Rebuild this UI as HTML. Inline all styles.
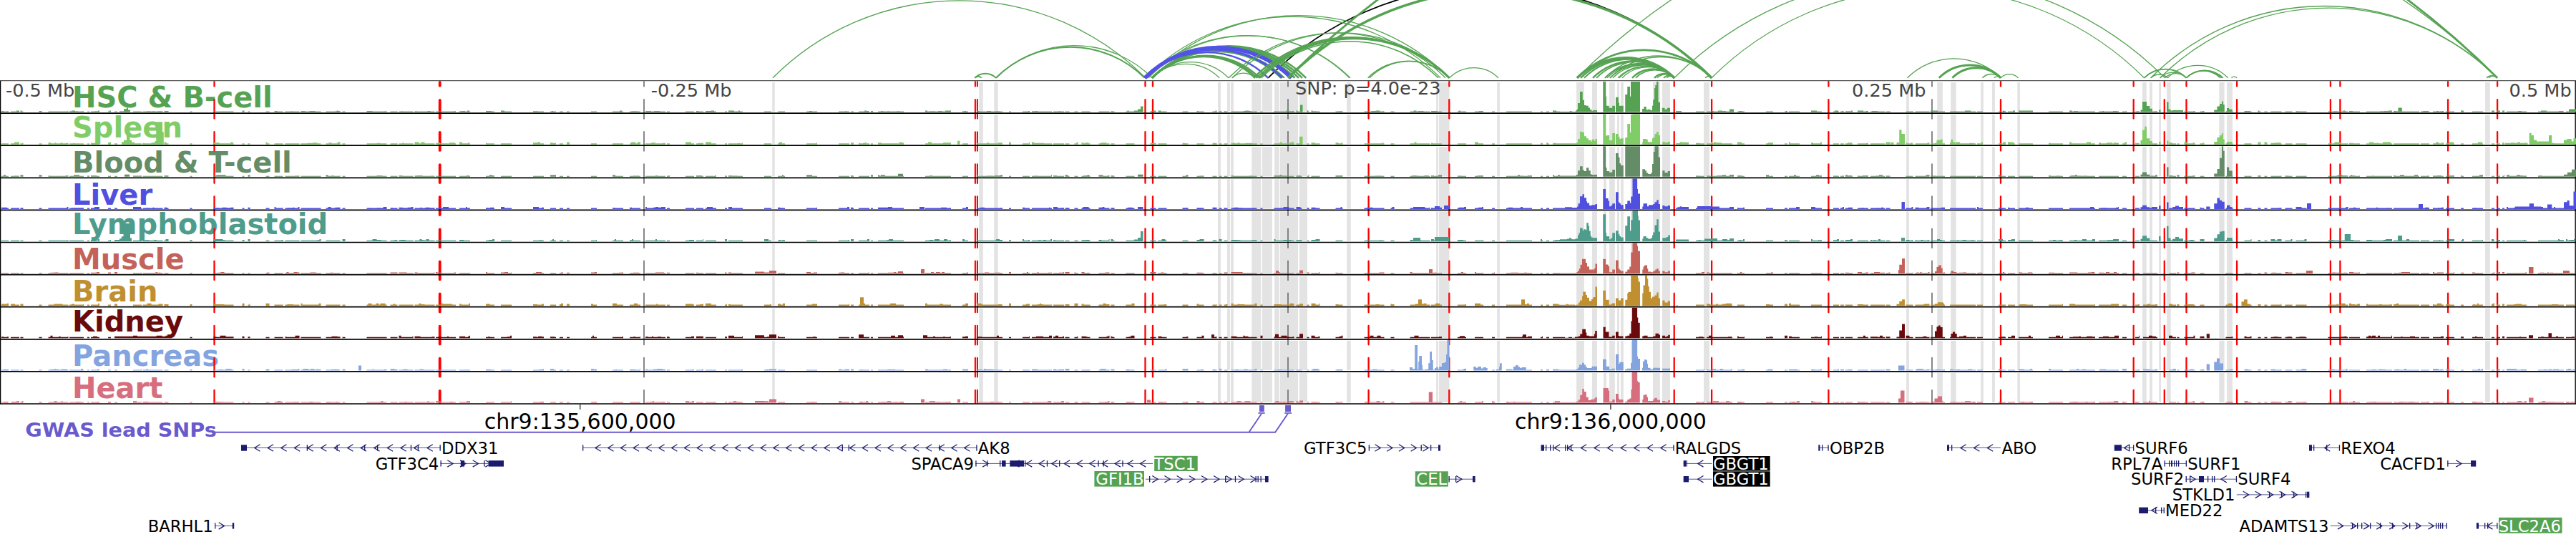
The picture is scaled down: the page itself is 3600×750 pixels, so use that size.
<!DOCTYPE html><html><head><meta charset="utf-8"><style>html,body{margin:0;padding:0;background:#fff;width:3600px;height:750px;overflow:hidden}svg{display:block}text{font-family:"DejaVu Sans","Liberation Sans",sans-serif}</style></head><body>
<svg width="3600" height="750" viewBox="0 0 3600 750">
<rect width="3600" height="750" fill="#fff"/>
<g fill="none" stroke-linecap="butt">
<path d="M1772.3 108.8A438.2 438.2 0 0 1 2392.0 108.8" stroke="#000" stroke-width="1.8"/>
<path d="M1080.0 108.8A368.4 368.4 0 0 1 1601.0 108.8" stroke="#55a352" stroke-width="1.3"/>
<path d="M1362.3 108.8A20.9 20.9 0 0 1 1391.9 108.8" stroke="#55a352" stroke-width="2.0"/>
<path d="M1362.3 108.8A6.7 6.7 0 0 1 1371.8 108.8" stroke="#55a352" stroke-width="1.6"/>
<path d="M1391.9 108.8A146.9 146.9 0 0 1 1599.7 108.8" stroke="#55a352" stroke-width="2.0"/>
<path d="M1391.9 108.8A154.4 154.4 0 0 1 1610.3 108.8" stroke="#55a352" stroke-width="1.3"/>
<path d="M1610.0 108.8A66.6 66.6 0 0 1 1704.2 108.8" stroke="#55a352" stroke-width="1.3"/>
<path d="M1610.0 108.8A75.6 75.6 0 0 1 1716.9 108.8" stroke="#55a352" stroke-width="1.3"/>
<path d="M1610.0 108.8A101.8 101.8 0 0 1 1754.0 108.8" stroke="#55a352" stroke-width="2.5"/>
<path d="M1610.0 108.8A103.9 103.9 0 0 1 1757.0 108.8" stroke="#55a352" stroke-width="2.0"/>
<path d="M1610.0 108.8A106.3 106.3 0 0 1 1760.4 108.8" stroke="#55a352" stroke-width="2.5"/>
<path d="M1610.0 108.8A127.6 127.6 0 0 1 1790.5 108.8" stroke="#55a352" stroke-width="3"/>
<path d="M1610.0 108.8A130.8 130.8 0 0 1 1795.0 108.8" stroke="#55a352" stroke-width="2"/>
<path d="M1610.0 108.8A141.1 141.1 0 0 1 1809.5 108.8" stroke="#55a352" stroke-width="3"/>
<path d="M1610.0 108.8A145.0 145.0 0 0 1 1815.0 108.8" stroke="#55a352" stroke-width="2.5"/>
<path d="M1610.0 108.8A148.5 148.5 0 0 1 1820.0 108.8" stroke="#55a352" stroke-width="2.5"/>
<path d="M1610.0 108.8A152.2 152.2 0 0 1 1825.3 108.8" stroke="#55a352" stroke-width="2.5"/>
<path d="M1600.0 108.8A202.1 202.1 0 0 1 1885.8 108.8" stroke="#55a352" stroke-width="1.3"/>
<path d="M1603.0 108.8A200.8 200.8 0 0 1 1887.0 108.8" stroke="#55a352" stroke-width="1.3"/>
<path d="M1600.0 108.8A292.0 292.0 0 0 1 2013.0 108.8" stroke="#55a352" stroke-width="1.3"/>
<path d="M1605.0 108.8A297.3 297.3 0 0 1 2025.5 108.8" stroke="#55a352" stroke-width="1.3"/>
<path d="M1600.0 108.8A121.8 121.8 0 0 1 1772.3 108.8" stroke="#5252e6" stroke-width="2.4"/>
<path d="M1600.0 108.8A135.8 135.8 0 0 1 1792.0 108.8" stroke="#5252e6" stroke-width="3"/>
<path d="M1600.0 108.8A144.8 144.8 0 0 1 1804.8 108.8" stroke="#5252e6" stroke-width="5.5"/>
<path d="M1721.7 108.8A22.8 22.8 0 0 1 1754.0 108.8" stroke="#55a352" stroke-width="1.3"/>
<path d="M1717.0 108.8A214.3 214.3 0 0 1 2020.0 108.8" stroke="#55a352" stroke-width="1.3"/>
<path d="M1722.0 108.8A214.6 214.6 0 0 1 2025.5 108.8" stroke="#55a352" stroke-width="1.3"/>
<path d="M1752.0 108.8A193.4 193.4 0 0 1 2025.5 108.8" stroke="#55a352" stroke-width="2.5"/>
<path d="M1756.0 108.8A190.6 190.6 0 0 1 2025.5 108.8" stroke="#55a352" stroke-width="2.0"/>
<path d="M1760.0 108.8A187.7 187.7 0 0 1 2025.5 108.8" stroke="#55a352" stroke-width="3"/>
<path d="M1763.0 108.8A174.7 174.7 0 0 1 2010.0 108.8" stroke="#55a352" stroke-width="1.5"/>
<path d="M1911.7 108.8A80.5 80.5 0 0 1 2025.5 108.8" stroke="#55a352" stroke-width="1.6"/>
<path d="M1914.0 108.8A78.8 78.8 0 0 1 2025.5 108.8" stroke="#55a352" stroke-width="1.3"/>
<path d="M2025.5 108.8A48.4 48.4 0 0 1 2094.0 108.8" stroke="#55a352" stroke-width="1.3"/>
<path d="M1800.0 108.8A418.6 418.6 0 0 1 2392.0 108.8" stroke="#55a352" stroke-width="3.5"/>
<path d="M2204.0 108.8A132.9 132.9 0 0 1 2392.0 108.8" stroke="#55a352" stroke-width="2.8"/>
<path d="M2242.8 108.8A105.5 105.5 0 0 1 2392.0 108.8" stroke="#55a352" stroke-width="1.5"/>
<path d="M2250.0 108.8A100.4 100.4 0 0 1 2392.0 108.8" stroke="#55a352" stroke-width="1.5"/>
<path d="M2383.0 108.8A6.7 6.7 0 0 1 2392.5 108.8" stroke="#55a352" stroke-width="1.5"/>
<path d="M2204.0 108.8A96.1 96.1 0 0 1 2339.9 108.8" stroke="#55a352" stroke-width="3.5"/>
<path d="M2209.0 108.8A92.6 92.6 0 0 1 2339.9 108.8" stroke="#55a352" stroke-width="2.5"/>
<path d="M2214.0 108.8A89.0 89.0 0 0 1 2339.9 108.8" stroke="#55a352" stroke-width="2.0"/>
<path d="M2226.0 108.8A80.5 80.5 0 0 1 2339.9 108.8" stroke="#55a352" stroke-width="2.5"/>
<path d="M2231.0 108.8A77.0 77.0 0 0 1 2339.9 108.8" stroke="#55a352" stroke-width="1.8"/>
<path d="M2243.0 108.8A68.5 68.5 0 0 1 2339.9 108.8" stroke="#55a352" stroke-width="1.8"/>
<path d="M2246.0 108.8A66.4 66.4 0 0 1 2339.9 108.8" stroke="#55a352" stroke-width="1.5"/>
<path d="M2250.0 108.8A63.6 63.6 0 0 1 2339.9 108.8" stroke="#55a352" stroke-width="1.8"/>
<path d="M2254.0 108.8A60.7 60.7 0 0 1 2339.9 108.8" stroke="#55a352" stroke-width="1.5"/>
<path d="M2261.0 108.8A55.8 55.8 0 0 1 2339.9 108.8" stroke="#55a352" stroke-width="1.5"/>
<path d="M2263.0 108.8A54.4 54.4 0 0 1 2339.9 108.8" stroke="#55a352" stroke-width="1.3"/>
<path d="M2267.0 108.8A51.5 51.5 0 0 1 2339.9 108.8" stroke="#55a352" stroke-width="1.3"/>
<path d="M2281.0 108.8A41.6 41.6 0 0 1 2339.9 108.8" stroke="#55a352" stroke-width="2.5"/>
<path d="M2286.0 108.8A38.1 38.1 0 0 1 2339.9 108.8" stroke="#55a352" stroke-width="1.8"/>
<path d="M2312.0 108.8A19.7 19.7 0 0 1 2339.9 108.8" stroke="#55a352" stroke-width="2.5"/>
<path d="M2316.0 108.8A16.9 16.9 0 0 1 2339.9 108.8" stroke="#55a352" stroke-width="1.5"/>
<path d="M2325.0 108.8A10.5 10.5 0 0 1 2339.9 108.8" stroke="#55a352" stroke-width="1.8"/>
<path d="M2329.0 108.8A7.7 7.7 0 0 1 2339.9 108.8" stroke="#55a352" stroke-width="1.3"/>
<path d="M2204.0 108.8A909.3 909.3 0 0 1 3490.0 108.8" stroke="#55a352" stroke-width="1.3"/>
<path d="M1800.0 108.8A1195.0 1195.0 0 0 1 3490.0 108.8" stroke="#55a352" stroke-width="2.8"/>
<path d="M2339.9 108.8A484.8 484.8 0 0 1 3025.5 108.8" stroke="#55a352" stroke-width="1.3"/>
<path d="M2392.0 108.8A427.4 427.4 0 0 1 2996.5 108.8" stroke="#55a352" stroke-width="1.3"/>
<path d="M2665.5 108.8A92.3 92.3 0 0 1 2796.0 108.8" stroke="#55a352" stroke-width="1.3"/>
<path d="M2709.8 108.8A61.0 61.0 0 0 1 2796.0 108.8" stroke="#55a352" stroke-width="3"/>
<path d="M2728.4 108.8A47.8 47.8 0 0 1 2796.0 108.8" stroke="#55a352" stroke-width="3"/>
<path d="M2770.4 108.8A18.1 18.1 0 0 1 2796.0 108.8" stroke="#55a352" stroke-width="1.3"/>
<path d="M2786.7 108.8A6.6 6.6 0 0 1 2796.0 108.8" stroke="#55a352" stroke-width="1.3"/>
<path d="M2796.0 108.8A17.3 17.3 0 0 1 2820.5 108.8" stroke="#55a352" stroke-width="1.3"/>
<path d="M2996.5 108.8A41.7 41.7 0 0 1 3055.5 108.8" stroke="#55a352" stroke-width="1.8"/>
<path d="M3005.7 108.8A16.8 16.8 0 0 1 3029.4 108.8" stroke="#55a352" stroke-width="1.5"/>
<path d="M3018.7 108.8A26.0 26.0 0 0 1 3055.5 108.8" stroke="#55a352" stroke-width="1.3"/>
<path d="M3025.5 108.8A21.2 21.2 0 0 1 3055.5 108.8" stroke="#55a352" stroke-width="1.3"/>
<path d="M3055.5 108.8A33.6 33.6 0 0 1 3103.0 108.8" stroke="#55a352" stroke-width="1.5"/>
<path d="M3055.5 108.8A35.0 35.0 0 0 1 3105.0 108.8" stroke="#55a352" stroke-width="1.5"/>
<path d="M3055.5 108.8A36.3 36.3 0 0 1 3106.9 108.8" stroke="#55a352" stroke-width="1.5"/>
<path d="M3029.4 108.8A59.6 59.6 0 0 1 3113.7 108.8" stroke="#55a352" stroke-width="1.3"/>
<path d="M3118.5 108.8A5.4 5.4 0 0 1 3126.2 108.8" stroke="#55a352" stroke-width="1.3"/>
<path d="M3005.7 108.8A342.5 342.5 0 0 1 3490.0 108.8" stroke="#55a352" stroke-width="1.3"/>
<path d="M3018.7 108.8A333.3 333.3 0 0 1 3490.0 108.8" stroke="#55a352" stroke-width="1.3"/>
<path d="M3475.0 108.8A10.6 10.6 0 0 1 3490.0 108.8" stroke="#55a352" stroke-width="1.5"/>
<path d="M3478.0 108.8A8.5 8.5 0 0 1 3490.0 108.8" stroke="#55a352" stroke-width="1.3"/>
</g>
<g fill="#e3e3e3">
<rect x="1079.2" y="115.0" width="3.5" height="41.3"/>
<rect x="1368.3" y="115.0" width="5.5" height="41.3"/>
<rect x="1389.3" y="115.0" width="5.4" height="41.3"/>
<rect x="1702.0" y="115.0" width="4.0" height="41.3"/>
<rect x="1715.0" y="115.0" width="3.9" height="41.3"/>
<rect x="1720.0" y="115.0" width="3.9" height="41.3"/>
<rect x="1749.2" y="115.0" width="13.0" height="41.3"/>
<rect x="1763.7" y="115.0" width="14.2" height="41.3"/>
<rect x="1781.1" y="115.0" width="6.7" height="41.3"/>
<rect x="1789.0" y="115.0" width="25.0" height="41.3"/>
<rect x="1815.8" y="115.0" width="11.2" height="41.3"/>
<rect x="1882.2" y="115.0" width="5.5" height="41.3"/>
<rect x="2007.1" y="115.0" width="2.9" height="41.3"/>
<rect x="2011.0" y="115.0" width="14.5" height="41.3"/>
<rect x="2092.2" y="115.0" width="3.8" height="41.3"/>
<rect x="2203.1" y="115.0" width="10.7" height="41.3"/>
<rect x="2225.0" y="115.0" width="7.0" height="41.3"/>
<rect x="2241.1" y="115.0" width="3.7" height="41.3"/>
<rect x="2249.1" y="115.0" width="7.7" height="41.3"/>
<rect x="2260.1" y="115.0" width="2.9" height="41.3"/>
<rect x="2265.0" y="115.0" width="3.8" height="41.3"/>
<rect x="2279.0" y="115.0" width="9.5" height="41.3"/>
<rect x="2310.0" y="115.0" width="9.8" height="41.3"/>
<rect x="2323.0" y="115.0" width="10.9" height="41.3"/>
<rect x="2381.0" y="115.0" width="7.9" height="41.3"/>
<rect x="2664.1" y="115.0" width="3.8" height="41.3"/>
<rect x="2707.2" y="115.0" width="7.7" height="41.3"/>
<rect x="2726.2" y="115.0" width="7.5" height="41.3"/>
<rect x="2768.1" y="115.0" width="3.8" height="41.3"/>
<rect x="2784.0" y="115.0" width="3.9" height="41.3"/>
<rect x="2819.3" y="115.0" width="3.7" height="41.3"/>
<rect x="2994.1" y="115.0" width="5.6" height="41.3"/>
<rect x="3004.1" y="115.0" width="3.8" height="41.3"/>
<rect x="3017.2" y="115.0" width="2.8" height="41.3"/>
<rect x="3028.1" y="115.0" width="5.6" height="41.3"/>
<rect x="3101.3" y="115.0" width="7.3" height="41.3"/>
<rect x="3112.1" y="115.0" width="7.8" height="41.3"/>
<rect x="3473.1" y="115.0" width="6.7" height="41.3"/>
<rect x="1079.2" y="160.1" width="3.5" height="41.3"/>
<rect x="1368.3" y="160.1" width="5.5" height="41.3"/>
<rect x="1389.3" y="160.1" width="5.4" height="41.3"/>
<rect x="1702.0" y="160.1" width="4.0" height="41.3"/>
<rect x="1715.0" y="160.1" width="3.9" height="41.3"/>
<rect x="1720.0" y="160.1" width="3.9" height="41.3"/>
<rect x="1749.2" y="160.1" width="13.0" height="41.3"/>
<rect x="1763.7" y="160.1" width="14.2" height="41.3"/>
<rect x="1781.1" y="160.1" width="6.7" height="41.3"/>
<rect x="1789.0" y="160.1" width="25.0" height="41.3"/>
<rect x="1815.8" y="160.1" width="11.2" height="41.3"/>
<rect x="1882.2" y="160.1" width="5.5" height="41.3"/>
<rect x="2007.1" y="160.1" width="2.9" height="41.3"/>
<rect x="2011.0" y="160.1" width="14.5" height="41.3"/>
<rect x="2092.2" y="160.1" width="3.8" height="41.3"/>
<rect x="2203.1" y="160.1" width="10.7" height="41.3"/>
<rect x="2225.0" y="160.1" width="7.0" height="41.3"/>
<rect x="2241.1" y="160.1" width="3.7" height="41.3"/>
<rect x="2249.1" y="160.1" width="7.7" height="41.3"/>
<rect x="2260.1" y="160.1" width="2.9" height="41.3"/>
<rect x="2265.0" y="160.1" width="3.8" height="41.3"/>
<rect x="2279.0" y="160.1" width="9.5" height="41.3"/>
<rect x="2310.0" y="160.1" width="9.8" height="41.3"/>
<rect x="2323.0" y="160.1" width="10.9" height="41.3"/>
<rect x="2381.0" y="160.1" width="7.9" height="41.3"/>
<rect x="2664.1" y="160.1" width="3.8" height="41.3"/>
<rect x="2707.2" y="160.1" width="7.7" height="41.3"/>
<rect x="2726.2" y="160.1" width="7.5" height="41.3"/>
<rect x="2768.1" y="160.1" width="3.8" height="41.3"/>
<rect x="2784.0" y="160.1" width="3.9" height="41.3"/>
<rect x="2819.3" y="160.1" width="3.7" height="41.3"/>
<rect x="2994.1" y="160.1" width="5.6" height="41.3"/>
<rect x="3004.1" y="160.1" width="3.8" height="41.3"/>
<rect x="3017.2" y="160.1" width="2.8" height="41.3"/>
<rect x="3028.1" y="160.1" width="5.6" height="41.3"/>
<rect x="3101.3" y="160.1" width="7.3" height="41.3"/>
<rect x="3112.1" y="160.1" width="7.8" height="41.3"/>
<rect x="3473.1" y="160.1" width="6.7" height="41.3"/>
<rect x="1079.2" y="205.2" width="3.5" height="41.3"/>
<rect x="1368.3" y="205.2" width="5.5" height="41.3"/>
<rect x="1389.3" y="205.2" width="5.4" height="41.3"/>
<rect x="1702.0" y="205.2" width="4.0" height="41.3"/>
<rect x="1715.0" y="205.2" width="3.9" height="41.3"/>
<rect x="1720.0" y="205.2" width="3.9" height="41.3"/>
<rect x="1749.2" y="205.2" width="13.0" height="41.3"/>
<rect x="1763.7" y="205.2" width="14.2" height="41.3"/>
<rect x="1781.1" y="205.2" width="6.7" height="41.3"/>
<rect x="1789.0" y="205.2" width="25.0" height="41.3"/>
<rect x="1815.8" y="205.2" width="11.2" height="41.3"/>
<rect x="1882.2" y="205.2" width="5.5" height="41.3"/>
<rect x="2007.1" y="205.2" width="2.9" height="41.3"/>
<rect x="2011.0" y="205.2" width="14.5" height="41.3"/>
<rect x="2092.2" y="205.2" width="3.8" height="41.3"/>
<rect x="2203.1" y="205.2" width="10.7" height="41.3"/>
<rect x="2225.0" y="205.2" width="7.0" height="41.3"/>
<rect x="2241.1" y="205.2" width="3.7" height="41.3"/>
<rect x="2249.1" y="205.2" width="7.7" height="41.3"/>
<rect x="2260.1" y="205.2" width="2.9" height="41.3"/>
<rect x="2265.0" y="205.2" width="3.8" height="41.3"/>
<rect x="2279.0" y="205.2" width="9.5" height="41.3"/>
<rect x="2310.0" y="205.2" width="9.8" height="41.3"/>
<rect x="2323.0" y="205.2" width="10.9" height="41.3"/>
<rect x="2381.0" y="205.2" width="7.9" height="41.3"/>
<rect x="2664.1" y="205.2" width="3.8" height="41.3"/>
<rect x="2707.2" y="205.2" width="7.7" height="41.3"/>
<rect x="2726.2" y="205.2" width="7.5" height="41.3"/>
<rect x="2768.1" y="205.2" width="3.8" height="41.3"/>
<rect x="2784.0" y="205.2" width="3.9" height="41.3"/>
<rect x="2819.3" y="205.2" width="3.7" height="41.3"/>
<rect x="2994.1" y="205.2" width="5.6" height="41.3"/>
<rect x="3004.1" y="205.2" width="3.8" height="41.3"/>
<rect x="3017.2" y="205.2" width="2.8" height="41.3"/>
<rect x="3028.1" y="205.2" width="5.6" height="41.3"/>
<rect x="3101.3" y="205.2" width="7.3" height="41.3"/>
<rect x="3112.1" y="205.2" width="7.8" height="41.3"/>
<rect x="3473.1" y="205.2" width="6.7" height="41.3"/>
<rect x="1079.2" y="250.3" width="3.5" height="41.3"/>
<rect x="1368.3" y="250.3" width="5.5" height="41.3"/>
<rect x="1389.3" y="250.3" width="5.4" height="41.3"/>
<rect x="1702.0" y="250.3" width="4.0" height="41.3"/>
<rect x="1715.0" y="250.3" width="3.9" height="41.3"/>
<rect x="1720.0" y="250.3" width="3.9" height="41.3"/>
<rect x="1749.2" y="250.3" width="13.0" height="41.3"/>
<rect x="1763.7" y="250.3" width="14.2" height="41.3"/>
<rect x="1781.1" y="250.3" width="6.7" height="41.3"/>
<rect x="1789.0" y="250.3" width="25.0" height="41.3"/>
<rect x="1815.8" y="250.3" width="11.2" height="41.3"/>
<rect x="1882.2" y="250.3" width="5.5" height="41.3"/>
<rect x="2007.1" y="250.3" width="2.9" height="41.3"/>
<rect x="2011.0" y="250.3" width="14.5" height="41.3"/>
<rect x="2092.2" y="250.3" width="3.8" height="41.3"/>
<rect x="2203.1" y="250.3" width="10.7" height="41.3"/>
<rect x="2225.0" y="250.3" width="7.0" height="41.3"/>
<rect x="2241.1" y="250.3" width="3.7" height="41.3"/>
<rect x="2249.1" y="250.3" width="7.7" height="41.3"/>
<rect x="2260.1" y="250.3" width="2.9" height="41.3"/>
<rect x="2265.0" y="250.3" width="3.8" height="41.3"/>
<rect x="2279.0" y="250.3" width="9.5" height="41.3"/>
<rect x="2310.0" y="250.3" width="9.8" height="41.3"/>
<rect x="2323.0" y="250.3" width="10.9" height="41.3"/>
<rect x="2381.0" y="250.3" width="7.9" height="41.3"/>
<rect x="2664.1" y="250.3" width="3.8" height="41.3"/>
<rect x="2707.2" y="250.3" width="7.7" height="41.3"/>
<rect x="2726.2" y="250.3" width="7.5" height="41.3"/>
<rect x="2768.1" y="250.3" width="3.8" height="41.3"/>
<rect x="2784.0" y="250.3" width="3.9" height="41.3"/>
<rect x="2819.3" y="250.3" width="3.7" height="41.3"/>
<rect x="2994.1" y="250.3" width="5.6" height="41.3"/>
<rect x="3004.1" y="250.3" width="3.8" height="41.3"/>
<rect x="3017.2" y="250.3" width="2.8" height="41.3"/>
<rect x="3028.1" y="250.3" width="5.6" height="41.3"/>
<rect x="3101.3" y="250.3" width="7.3" height="41.3"/>
<rect x="3112.1" y="250.3" width="7.8" height="41.3"/>
<rect x="3473.1" y="250.3" width="6.7" height="41.3"/>
<rect x="1079.2" y="295.4" width="3.5" height="41.3"/>
<rect x="1368.3" y="295.4" width="5.5" height="41.3"/>
<rect x="1389.3" y="295.4" width="5.4" height="41.3"/>
<rect x="1702.0" y="295.4" width="4.0" height="41.3"/>
<rect x="1715.0" y="295.4" width="3.9" height="41.3"/>
<rect x="1720.0" y="295.4" width="3.9" height="41.3"/>
<rect x="1749.2" y="295.4" width="13.0" height="41.3"/>
<rect x="1763.7" y="295.4" width="14.2" height="41.3"/>
<rect x="1781.1" y="295.4" width="6.7" height="41.3"/>
<rect x="1789.0" y="295.4" width="25.0" height="41.3"/>
<rect x="1815.8" y="295.4" width="11.2" height="41.3"/>
<rect x="1882.2" y="295.4" width="5.5" height="41.3"/>
<rect x="2007.1" y="295.4" width="2.9" height="41.3"/>
<rect x="2011.0" y="295.4" width="14.5" height="41.3"/>
<rect x="2092.2" y="295.4" width="3.8" height="41.3"/>
<rect x="2203.1" y="295.4" width="10.7" height="41.3"/>
<rect x="2225.0" y="295.4" width="7.0" height="41.3"/>
<rect x="2241.1" y="295.4" width="3.7" height="41.3"/>
<rect x="2249.1" y="295.4" width="7.7" height="41.3"/>
<rect x="2260.1" y="295.4" width="2.9" height="41.3"/>
<rect x="2265.0" y="295.4" width="3.8" height="41.3"/>
<rect x="2279.0" y="295.4" width="9.5" height="41.3"/>
<rect x="2310.0" y="295.4" width="9.8" height="41.3"/>
<rect x="2323.0" y="295.4" width="10.9" height="41.3"/>
<rect x="2381.0" y="295.4" width="7.9" height="41.3"/>
<rect x="2664.1" y="295.4" width="3.8" height="41.3"/>
<rect x="2707.2" y="295.4" width="7.7" height="41.3"/>
<rect x="2726.2" y="295.4" width="7.5" height="41.3"/>
<rect x="2768.1" y="295.4" width="3.8" height="41.3"/>
<rect x="2784.0" y="295.4" width="3.9" height="41.3"/>
<rect x="2819.3" y="295.4" width="3.7" height="41.3"/>
<rect x="2994.1" y="295.4" width="5.6" height="41.3"/>
<rect x="3004.1" y="295.4" width="3.8" height="41.3"/>
<rect x="3017.2" y="295.4" width="2.8" height="41.3"/>
<rect x="3028.1" y="295.4" width="5.6" height="41.3"/>
<rect x="3101.3" y="295.4" width="7.3" height="41.3"/>
<rect x="3112.1" y="295.4" width="7.8" height="41.3"/>
<rect x="3473.1" y="295.4" width="6.7" height="41.3"/>
<rect x="1079.2" y="340.5" width="3.5" height="41.3"/>
<rect x="1368.3" y="340.5" width="5.5" height="41.3"/>
<rect x="1389.3" y="340.5" width="5.4" height="41.3"/>
<rect x="1702.0" y="340.5" width="4.0" height="41.3"/>
<rect x="1715.0" y="340.5" width="3.9" height="41.3"/>
<rect x="1720.0" y="340.5" width="3.9" height="41.3"/>
<rect x="1749.2" y="340.5" width="13.0" height="41.3"/>
<rect x="1763.7" y="340.5" width="14.2" height="41.3"/>
<rect x="1781.1" y="340.5" width="6.7" height="41.3"/>
<rect x="1789.0" y="340.5" width="25.0" height="41.3"/>
<rect x="1815.8" y="340.5" width="11.2" height="41.3"/>
<rect x="1882.2" y="340.5" width="5.5" height="41.3"/>
<rect x="2007.1" y="340.5" width="2.9" height="41.3"/>
<rect x="2011.0" y="340.5" width="14.5" height="41.3"/>
<rect x="2092.2" y="340.5" width="3.8" height="41.3"/>
<rect x="2203.1" y="340.5" width="10.7" height="41.3"/>
<rect x="2225.0" y="340.5" width="7.0" height="41.3"/>
<rect x="2241.1" y="340.5" width="3.7" height="41.3"/>
<rect x="2249.1" y="340.5" width="7.7" height="41.3"/>
<rect x="2260.1" y="340.5" width="2.9" height="41.3"/>
<rect x="2265.0" y="340.5" width="3.8" height="41.3"/>
<rect x="2279.0" y="340.5" width="9.5" height="41.3"/>
<rect x="2310.0" y="340.5" width="9.8" height="41.3"/>
<rect x="2323.0" y="340.5" width="10.9" height="41.3"/>
<rect x="2381.0" y="340.5" width="7.9" height="41.3"/>
<rect x="2664.1" y="340.5" width="3.8" height="41.3"/>
<rect x="2707.2" y="340.5" width="7.7" height="41.3"/>
<rect x="2726.2" y="340.5" width="7.5" height="41.3"/>
<rect x="2768.1" y="340.5" width="3.8" height="41.3"/>
<rect x="2784.0" y="340.5" width="3.9" height="41.3"/>
<rect x="2819.3" y="340.5" width="3.7" height="41.3"/>
<rect x="2994.1" y="340.5" width="5.6" height="41.3"/>
<rect x="3004.1" y="340.5" width="3.8" height="41.3"/>
<rect x="3017.2" y="340.5" width="2.8" height="41.3"/>
<rect x="3028.1" y="340.5" width="5.6" height="41.3"/>
<rect x="3101.3" y="340.5" width="7.3" height="41.3"/>
<rect x="3112.1" y="340.5" width="7.8" height="41.3"/>
<rect x="3473.1" y="340.5" width="6.7" height="41.3"/>
<rect x="1079.2" y="385.6" width="3.5" height="41.3"/>
<rect x="1368.3" y="385.6" width="5.5" height="41.3"/>
<rect x="1389.3" y="385.6" width="5.4" height="41.3"/>
<rect x="1702.0" y="385.6" width="4.0" height="41.3"/>
<rect x="1715.0" y="385.6" width="3.9" height="41.3"/>
<rect x="1720.0" y="385.6" width="3.9" height="41.3"/>
<rect x="1749.2" y="385.6" width="13.0" height="41.3"/>
<rect x="1763.7" y="385.6" width="14.2" height="41.3"/>
<rect x="1781.1" y="385.6" width="6.7" height="41.3"/>
<rect x="1789.0" y="385.6" width="25.0" height="41.3"/>
<rect x="1815.8" y="385.6" width="11.2" height="41.3"/>
<rect x="1882.2" y="385.6" width="5.5" height="41.3"/>
<rect x="2007.1" y="385.6" width="2.9" height="41.3"/>
<rect x="2011.0" y="385.6" width="14.5" height="41.3"/>
<rect x="2092.2" y="385.6" width="3.8" height="41.3"/>
<rect x="2203.1" y="385.6" width="10.7" height="41.3"/>
<rect x="2225.0" y="385.6" width="7.0" height="41.3"/>
<rect x="2241.1" y="385.6" width="3.7" height="41.3"/>
<rect x="2249.1" y="385.6" width="7.7" height="41.3"/>
<rect x="2260.1" y="385.6" width="2.9" height="41.3"/>
<rect x="2265.0" y="385.6" width="3.8" height="41.3"/>
<rect x="2279.0" y="385.6" width="9.5" height="41.3"/>
<rect x="2310.0" y="385.6" width="9.8" height="41.3"/>
<rect x="2323.0" y="385.6" width="10.9" height="41.3"/>
<rect x="2381.0" y="385.6" width="7.9" height="41.3"/>
<rect x="2664.1" y="385.6" width="3.8" height="41.3"/>
<rect x="2707.2" y="385.6" width="7.7" height="41.3"/>
<rect x="2726.2" y="385.6" width="7.5" height="41.3"/>
<rect x="2768.1" y="385.6" width="3.8" height="41.3"/>
<rect x="2784.0" y="385.6" width="3.9" height="41.3"/>
<rect x="2819.3" y="385.6" width="3.7" height="41.3"/>
<rect x="2994.1" y="385.6" width="5.6" height="41.3"/>
<rect x="3004.1" y="385.6" width="3.8" height="41.3"/>
<rect x="3017.2" y="385.6" width="2.8" height="41.3"/>
<rect x="3028.1" y="385.6" width="5.6" height="41.3"/>
<rect x="3101.3" y="385.6" width="7.3" height="41.3"/>
<rect x="3112.1" y="385.6" width="7.8" height="41.3"/>
<rect x="3473.1" y="385.6" width="6.7" height="41.3"/>
<rect x="1079.2" y="430.7" width="3.5" height="41.3"/>
<rect x="1368.3" y="430.7" width="5.5" height="41.3"/>
<rect x="1389.3" y="430.7" width="5.4" height="41.3"/>
<rect x="1702.0" y="430.7" width="4.0" height="41.3"/>
<rect x="1715.0" y="430.7" width="3.9" height="41.3"/>
<rect x="1720.0" y="430.7" width="3.9" height="41.3"/>
<rect x="1749.2" y="430.7" width="13.0" height="41.3"/>
<rect x="1763.7" y="430.7" width="14.2" height="41.3"/>
<rect x="1781.1" y="430.7" width="6.7" height="41.3"/>
<rect x="1789.0" y="430.7" width="25.0" height="41.3"/>
<rect x="1815.8" y="430.7" width="11.2" height="41.3"/>
<rect x="1882.2" y="430.7" width="5.5" height="41.3"/>
<rect x="2007.1" y="430.7" width="2.9" height="41.3"/>
<rect x="2011.0" y="430.7" width="14.5" height="41.3"/>
<rect x="2092.2" y="430.7" width="3.8" height="41.3"/>
<rect x="2203.1" y="430.7" width="10.7" height="41.3"/>
<rect x="2225.0" y="430.7" width="7.0" height="41.3"/>
<rect x="2241.1" y="430.7" width="3.7" height="41.3"/>
<rect x="2249.1" y="430.7" width="7.7" height="41.3"/>
<rect x="2260.1" y="430.7" width="2.9" height="41.3"/>
<rect x="2265.0" y="430.7" width="3.8" height="41.3"/>
<rect x="2279.0" y="430.7" width="9.5" height="41.3"/>
<rect x="2310.0" y="430.7" width="9.8" height="41.3"/>
<rect x="2323.0" y="430.7" width="10.9" height="41.3"/>
<rect x="2381.0" y="430.7" width="7.9" height="41.3"/>
<rect x="2664.1" y="430.7" width="3.8" height="41.3"/>
<rect x="2707.2" y="430.7" width="7.7" height="41.3"/>
<rect x="2726.2" y="430.7" width="7.5" height="41.3"/>
<rect x="2768.1" y="430.7" width="3.8" height="41.3"/>
<rect x="2784.0" y="430.7" width="3.9" height="41.3"/>
<rect x="2819.3" y="430.7" width="3.7" height="41.3"/>
<rect x="2994.1" y="430.7" width="5.6" height="41.3"/>
<rect x="3004.1" y="430.7" width="3.8" height="41.3"/>
<rect x="3017.2" y="430.7" width="2.8" height="41.3"/>
<rect x="3028.1" y="430.7" width="5.6" height="41.3"/>
<rect x="3101.3" y="430.7" width="7.3" height="41.3"/>
<rect x="3112.1" y="430.7" width="7.8" height="41.3"/>
<rect x="3473.1" y="430.7" width="6.7" height="41.3"/>
<rect x="1079.2" y="475.8" width="3.5" height="41.3"/>
<rect x="1368.3" y="475.8" width="5.5" height="41.3"/>
<rect x="1389.3" y="475.8" width="5.4" height="41.3"/>
<rect x="1702.0" y="475.8" width="4.0" height="41.3"/>
<rect x="1715.0" y="475.8" width="3.9" height="41.3"/>
<rect x="1720.0" y="475.8" width="3.9" height="41.3"/>
<rect x="1749.2" y="475.8" width="13.0" height="41.3"/>
<rect x="1763.7" y="475.8" width="14.2" height="41.3"/>
<rect x="1781.1" y="475.8" width="6.7" height="41.3"/>
<rect x="1789.0" y="475.8" width="25.0" height="41.3"/>
<rect x="1815.8" y="475.8" width="11.2" height="41.3"/>
<rect x="1882.2" y="475.8" width="5.5" height="41.3"/>
<rect x="2007.1" y="475.8" width="2.9" height="41.3"/>
<rect x="2011.0" y="475.8" width="14.5" height="41.3"/>
<rect x="2092.2" y="475.8" width="3.8" height="41.3"/>
<rect x="2203.1" y="475.8" width="10.7" height="41.3"/>
<rect x="2225.0" y="475.8" width="7.0" height="41.3"/>
<rect x="2241.1" y="475.8" width="3.7" height="41.3"/>
<rect x="2249.1" y="475.8" width="7.7" height="41.3"/>
<rect x="2260.1" y="475.8" width="2.9" height="41.3"/>
<rect x="2265.0" y="475.8" width="3.8" height="41.3"/>
<rect x="2279.0" y="475.8" width="9.5" height="41.3"/>
<rect x="2310.0" y="475.8" width="9.8" height="41.3"/>
<rect x="2323.0" y="475.8" width="10.9" height="41.3"/>
<rect x="2381.0" y="475.8" width="7.9" height="41.3"/>
<rect x="2664.1" y="475.8" width="3.8" height="41.3"/>
<rect x="2707.2" y="475.8" width="7.7" height="41.3"/>
<rect x="2726.2" y="475.8" width="7.5" height="41.3"/>
<rect x="2768.1" y="475.8" width="3.8" height="41.3"/>
<rect x="2784.0" y="475.8" width="3.9" height="41.3"/>
<rect x="2819.3" y="475.8" width="3.7" height="41.3"/>
<rect x="2994.1" y="475.8" width="5.6" height="41.3"/>
<rect x="3004.1" y="475.8" width="3.8" height="41.3"/>
<rect x="3017.2" y="475.8" width="2.8" height="41.3"/>
<rect x="3028.1" y="475.8" width="5.6" height="41.3"/>
<rect x="3101.3" y="475.8" width="7.3" height="41.3"/>
<rect x="3112.1" y="475.8" width="7.8" height="41.3"/>
<rect x="3473.1" y="475.8" width="6.7" height="41.3"/>
<rect x="1079.2" y="520.9" width="3.5" height="41.3"/>
<rect x="1368.3" y="520.9" width="5.5" height="41.3"/>
<rect x="1389.3" y="520.9" width="5.4" height="41.3"/>
<rect x="1702.0" y="520.9" width="4.0" height="41.3"/>
<rect x="1715.0" y="520.9" width="3.9" height="41.3"/>
<rect x="1720.0" y="520.9" width="3.9" height="41.3"/>
<rect x="1749.2" y="520.9" width="13.0" height="41.3"/>
<rect x="1763.7" y="520.9" width="14.2" height="41.3"/>
<rect x="1781.1" y="520.9" width="6.7" height="41.3"/>
<rect x="1789.0" y="520.9" width="25.0" height="41.3"/>
<rect x="1815.8" y="520.9" width="11.2" height="41.3"/>
<rect x="1882.2" y="520.9" width="5.5" height="41.3"/>
<rect x="2007.1" y="520.9" width="2.9" height="41.3"/>
<rect x="2011.0" y="520.9" width="14.5" height="41.3"/>
<rect x="2092.2" y="520.9" width="3.8" height="41.3"/>
<rect x="2203.1" y="520.9" width="10.7" height="41.3"/>
<rect x="2225.0" y="520.9" width="7.0" height="41.3"/>
<rect x="2241.1" y="520.9" width="3.7" height="41.3"/>
<rect x="2249.1" y="520.9" width="7.7" height="41.3"/>
<rect x="2260.1" y="520.9" width="2.9" height="41.3"/>
<rect x="2265.0" y="520.9" width="3.8" height="41.3"/>
<rect x="2279.0" y="520.9" width="9.5" height="41.3"/>
<rect x="2310.0" y="520.9" width="9.8" height="41.3"/>
<rect x="2323.0" y="520.9" width="10.9" height="41.3"/>
<rect x="2381.0" y="520.9" width="7.9" height="41.3"/>
<rect x="2664.1" y="520.9" width="3.8" height="41.3"/>
<rect x="2707.2" y="520.9" width="7.7" height="41.3"/>
<rect x="2726.2" y="520.9" width="7.5" height="41.3"/>
<rect x="2768.1" y="520.9" width="3.8" height="41.3"/>
<rect x="2784.0" y="520.9" width="3.9" height="41.3"/>
<rect x="2819.3" y="520.9" width="3.7" height="41.3"/>
<rect x="2994.1" y="520.9" width="5.6" height="41.3"/>
<rect x="3004.1" y="520.9" width="3.8" height="41.3"/>
<rect x="3017.2" y="520.9" width="2.8" height="41.3"/>
<rect x="3028.1" y="520.9" width="5.6" height="41.3"/>
<rect x="3101.3" y="520.9" width="7.3" height="41.3"/>
<rect x="3112.1" y="520.9" width="7.8" height="41.3"/>
<rect x="3473.1" y="520.9" width="6.7" height="41.3"/>
</g>
<g font-weight="bold" font-size="40">
<text x="101" y="150.4" fill="#55a352">HSC &amp; B-cell</text>
<text x="101" y="192.4" fill="#80cc66">Spleen</text>
<text x="101" y="240.6" fill="#648c66">Blood &amp; T-cell</text>
<text x="101" y="285.8" fill="#5050e0">Liver</text>
<text x="101" y="327.0" fill="#4e9c8c">Lymphoblastoid</text>
<text x="101" y="376.1" fill="#c4625a">Muscle</text>
<text x="101" y="421.1" fill="#c09030">Brain</text>
<text x="101" y="463.2" fill="#6b0a0a">Kidney</text>
<text x="101" y="511.3" fill="#84a4e0">Pancreas</text>
<text x="101" y="556.3" fill="#d66e7e">Heart</text>
</g>
<line x1="0" y1="112.7" x2="3600" y2="112.7" stroke="#555" stroke-width="1.3"/>
<line x1="0.6" y1="113.0" x2="0.6" y2="564.0" stroke="#000" stroke-width="1.3"/>
<line x1="3599.2" y1="113.0" x2="3599.2" y2="564.0" stroke="#000" stroke-width="1.3"/>
<path d="M900.0 113.8V120.8M900.0 138.8V165.9M900.0 183.9V211.0M900.0 229.0V256.1M900.0 274.1V301.2M900.0 319.2V346.3M900.0 364.3V391.4M900.0 409.4V436.5M900.0 454.5V481.6M900.0 499.6V526.7M900.0 544.7V563.2" stroke="#6a6a6a" stroke-width="1.6" stroke-linecap="round" fill="none"/>
<path d="M1800.0 113.8V120.8M1800.0 138.8V165.9M1800.0 183.9V211.0M1800.0 229.0V256.1M1800.0 274.1V301.2M1800.0 319.2V346.3M1800.0 364.3V391.4M1800.0 409.4V436.5M1800.0 454.5V481.6M1800.0 499.6V526.7M1800.0 544.7V563.2" stroke="#6a6a6a" stroke-width="1.6" stroke-linecap="round" fill="none"/>
<path d="M2700.0 113.8V120.8M2700.0 138.8V165.9M2700.0 183.9V211.0M2700.0 229.0V256.1M2700.0 274.1V301.2M2700.0 319.2V346.3M2700.0 364.3V391.4M2700.0 409.4V436.5M2700.0 454.5V481.6M2700.0 499.6V526.7M2700.0 544.7V563.2" stroke="#6a6a6a" stroke-width="1.6" stroke-linecap="round" fill="none"/>
<path d="M299.5 114.2V120.4M299.5 139.2V165.5M299.5 184.2V210.6M299.5 229.4V255.8M299.5 274.4V300.9M299.5 319.5V346.0M299.5 364.6V391.1M299.5 409.7V436.2M299.5 454.8V481.3M299.5 500.0V526.4M299.5 545.0V562.9" stroke="#ff0000" stroke-width="2.3" stroke-linecap="round" fill="none"/>
<path d="M614.7 114.9V119.7M614.7 139.9V164.8M614.7 185.0V209.9M614.7 230.1V255.0M614.7 275.2V300.1M614.7 320.3V345.2M614.7 365.4V390.3M614.7 410.5V435.4M614.7 455.6V480.5M614.7 500.7V525.6M614.7 545.8V562.1" stroke="#ff0000" stroke-width="3.8" stroke-linecap="round" fill="none"/>
<path d="M1362.9 114.0V120.5M1362.9 139.1V165.6M1362.9 184.2V210.7M1362.9 229.3V255.9M1362.9 274.3V300.9M1362.9 319.4V346.1M1362.9 364.6V391.2M1362.9 409.6V436.2M1362.9 454.8V481.4M1362.9 499.9V526.5M1362.9 544.9V563.0" stroke="#ff0000" stroke-width="2.1" stroke-linecap="round" fill="none"/>
<path d="M1365.9 114.0V120.5M1365.9 139.1V165.6M1365.9 184.2V210.7M1365.9 229.3V255.9M1365.9 274.3V300.9M1365.9 319.4V346.1M1365.9 364.6V391.2M1365.9 409.6V436.2M1365.9 454.8V481.4M1365.9 499.9V526.5M1365.9 544.9V563.0" stroke="#ff0000" stroke-width="2.1" stroke-linecap="round" fill="none"/>
<path d="M1600.5 114.2V120.4M1600.5 139.2V165.5M1600.5 184.2V210.6M1600.5 229.4V255.8M1600.5 274.4V300.9M1600.5 319.5V346.0M1600.5 364.6V391.1M1600.5 409.7V436.2M1600.5 454.8V481.3M1600.5 500.0V526.4M1600.5 545.0V562.9" stroke="#ff0000" stroke-width="2.3" stroke-linecap="round" fill="none"/>
<path d="M1611.0 114.2V120.4M1611.0 139.2V165.5M1611.0 184.2V210.6M1611.0 229.4V255.8M1611.0 274.4V300.9M1611.0 319.5V346.0M1611.0 364.6V391.1M1611.0 409.7V436.2M1611.0 454.8V481.3M1611.0 500.0V526.4M1611.0 545.0V562.9" stroke="#ff0000" stroke-width="2.3" stroke-linecap="round" fill="none"/>
<path d="M1912.6 114.2V120.4M1912.6 139.2V165.5M1912.6 184.2V210.6M1912.6 229.4V255.8M1912.6 274.4V300.9M1912.6 319.5V346.0M1912.6 364.6V391.1M1912.6 409.7V436.2M1912.6 454.8V481.3M1912.6 500.0V526.4M1912.6 545.0V562.9" stroke="#ff0000" stroke-width="2.3" stroke-linecap="round" fill="none"/>
<path d="M2025.3 114.2V120.4M2025.3 139.2V165.5M2025.3 184.2V210.6M2025.3 229.4V255.8M2025.3 274.4V300.9M2025.3 319.5V346.0M2025.3 364.6V391.1M2025.3 409.7V436.2M2025.3 454.8V481.3M2025.3 500.0V526.4M2025.3 545.0V562.9" stroke="#ff0000" stroke-width="2.3" stroke-linecap="round" fill="none"/>
<path d="M2339.7 114.2V120.4M2339.7 139.2V165.5M2339.7 184.2V210.6M2339.7 229.4V255.8M2339.7 274.4V300.9M2339.7 319.5V346.0M2339.7 364.6V391.1M2339.7 409.7V436.2M2339.7 454.8V481.3M2339.7 500.0V526.4M2339.7 545.0V562.9" stroke="#ff0000" stroke-width="2.3" stroke-linecap="round" fill="none"/>
<path d="M2392.1 114.2V120.4M2392.1 139.2V165.5M2392.1 184.2V210.6M2392.1 229.4V255.8M2392.1 274.4V300.9M2392.1 319.5V346.0M2392.1 364.6V391.1M2392.1 409.7V436.2M2392.1 454.8V481.3M2392.1 500.0V526.4M2392.1 545.0V562.9" stroke="#ff0000" stroke-width="2.3" stroke-linecap="round" fill="none"/>
<path d="M2555.4 114.2V120.4M2555.4 139.2V165.5M2555.4 184.2V210.6M2555.4 229.4V255.8M2555.4 274.4V300.9M2555.4 319.5V346.0M2555.4 364.6V391.1M2555.4 409.7V436.2M2555.4 454.8V481.3M2555.4 500.0V526.4M2555.4 545.0V562.9" stroke="#ff0000" stroke-width="2.3" stroke-linecap="round" fill="none"/>
<path d="M2796.0 114.2V120.4M2796.0 139.2V165.5M2796.0 184.2V210.6M2796.0 229.4V255.8M2796.0 274.4V300.9M2796.0 319.5V346.0M2796.0 364.6V391.1M2796.0 409.7V436.2M2796.0 454.8V481.3M2796.0 500.0V526.4M2796.0 545.0V562.9" stroke="#ff0000" stroke-width="2.3" stroke-linecap="round" fill="none"/>
<path d="M2981.7 114.2V120.4M2981.7 139.2V165.5M2981.7 184.2V210.6M2981.7 229.4V255.8M2981.7 274.4V300.9M2981.7 319.5V346.0M2981.7 364.6V391.1M2981.7 409.7V436.2M2981.7 454.8V481.3M2981.7 500.0V526.4M2981.7 545.0V562.9" stroke="#ff0000" stroke-width="2.3" stroke-linecap="round" fill="none"/>
<path d="M3024.8 114.2V120.4M3024.8 139.2V165.5M3024.8 184.2V210.6M3024.8 229.4V255.8M3024.8 274.4V300.9M3024.8 319.5V346.0M3024.8 364.6V391.1M3024.8 409.7V436.2M3024.8 454.8V481.3M3024.8 500.0V526.4M3024.8 545.0V562.9" stroke="#ff0000" stroke-width="2.3" stroke-linecap="round" fill="none"/>
<path d="M3055.5 114.2V120.4M3055.5 139.2V165.5M3055.5 184.2V210.6M3055.5 229.4V255.8M3055.5 274.4V300.9M3055.5 319.5V346.0M3055.5 364.6V391.1M3055.5 409.7V436.2M3055.5 454.8V481.3M3055.5 500.0V526.4M3055.5 545.0V562.9" stroke="#ff0000" stroke-width="2.3" stroke-linecap="round" fill="none"/>
<path d="M3126.1 114.2V120.4M3126.1 139.2V165.5M3126.1 184.2V210.6M3126.1 229.4V255.8M3126.1 274.4V300.9M3126.1 319.5V346.0M3126.1 364.6V391.1M3126.1 409.7V436.2M3126.1 454.8V481.3M3126.1 500.0V526.4M3126.1 545.0V562.9" stroke="#ff0000" stroke-width="2.3" stroke-linecap="round" fill="none"/>
<path d="M3256.9 114.2V120.4M3256.9 139.2V165.5M3256.9 184.2V210.6M3256.9 229.4V255.8M3256.9 274.4V300.9M3256.9 319.5V346.0M3256.9 364.6V391.1M3256.9 409.7V436.2M3256.9 454.8V481.3M3256.9 500.0V526.4M3256.9 545.0V562.9" stroke="#ff0000" stroke-width="2.3" stroke-linecap="round" fill="none"/>
<path d="M3270.4 114.2V120.4M3270.4 139.2V165.5M3270.4 184.2V210.6M3270.4 229.4V255.8M3270.4 274.4V300.9M3270.4 319.5V346.0M3270.4 364.6V391.1M3270.4 409.7V436.2M3270.4 454.8V481.3M3270.4 500.0V526.4M3270.4 545.0V562.9" stroke="#ff0000" stroke-width="2.3" stroke-linecap="round" fill="none"/>
<path d="M3421.1 114.2V120.4M3421.1 139.2V165.5M3421.1 184.2V210.6M3421.1 229.4V255.8M3421.1 274.4V300.9M3421.1 319.5V346.0M3421.1 364.6V391.1M3421.1 409.7V436.2M3421.1 454.8V481.3M3421.1 500.0V526.4M3421.1 545.0V562.9" stroke="#ff0000" stroke-width="2.3" stroke-linecap="round" fill="none"/>
<path d="M3490.1 114.2V120.4M3490.1 139.2V165.5M3490.1 184.2V210.6M3490.1 229.4V255.8M3490.1 274.4V300.9M3490.1 319.5V346.0M3490.1 364.6V391.1M3490.1 409.7V436.2M3490.1 454.8V481.3M3490.1 500.0V526.4M3490.1 545.0V562.9" stroke="#ff0000" stroke-width="2.3" stroke-linecap="round" fill="none"/>
<path fill="#55a352" d="M2 156.6V155.0H5V155.6H10V155.3H12V156.6ZM15 156.6V155.6H23V154.4H27V156.6ZM28.5 156.6V154.4H30.5V155.6H32.5V156.6ZM54.5 156.6V155.0H58.5V156.6ZM67.5 156.6V155.6H93.5V155.3H95.5V156.6ZM97 156.6V155.3H100V154.4H105V155.3H109V155.6H115V155.3H117V156.6ZM122 156.6V155.6H125V156.6ZM127 156.6V155.6H132V155.3H137V154.4H139V156.6ZM151 156.6V155.6H153V154.4H155V156.6ZM160 156.6V155.6H164V156.6ZM167 156.6V155.3H173V152.2H177V150.6H179V153.5H182V156.6ZM186 156.6V155.6H198V156.6ZM199.5 156.6V155.6H205.5V155.3H210.5V155.6H212.5V155.3H216.5V155.6H220.5V155.3H227.5V156.6ZM229.5 156.6V155.0H235.5V156.6ZM265.5 156.6V155.6H268.5V156.6ZM298.5 156.6V155.6H326.5V156.6ZM338.5 156.6V154.4H341.5V156.6ZM346.5 156.6V155.6H349.5V156.6ZM371.5 156.6V155.6H376.5V156.6ZM383.5 156.6V155.0H387.5V155.6H395.5V156.6ZM398.5 156.6V155.6H406.5V155.3H408.5V155.6H418.5V156.6ZM420.5 156.6V155.0H426.5V155.6H432.5V155.0H440.5V155.6H448.5V156.6ZM455.5 156.6V155.6H468.5V155.3H470.5V154.4H472.5V155.0H475.5V156.6ZM478.5 156.6V155.6H482.5V156.6ZM512.5 156.6V155.0H520.5V155.6H537.5V155.3H540.5V156.6ZM545.5 156.6V155.6H555.5V156.6ZM557.5 156.6V155.6H560.5V155.3H562.5V155.6H577.5V156.6ZM579.5 156.6V155.3H582.5V155.6H597.5V155.0H601.5V155.6H607.5V156.6ZM609 156.6V155.6H634V155.3H637V156.6ZM642 156.6V155.3H645V155.0H650V155.6H653V154.4H656V155.6H657V156.6ZM679 156.6V155.0H687V155.6H691V156.6ZM700 156.6V154.4H705V155.6H715V156.6ZM745 156.6V155.3H752V155.6H760V156.6ZM769 156.6V155.6H771V155.0H773V155.6H777V156.6ZM782 156.6V155.6H787V156.6ZM792 156.6V155.6H796V156.6ZM826 156.6V155.6H834V156.6ZM856 156.6V155.6H866V154.4H869V155.6H871V156.6ZM880 156.6V155.6H883V155.3H891V155.6H895V156.6ZM902 156.6V155.0H910V155.6H914V155.0H922V155.6H930V156.6ZM932 156.6V155.6H936V156.6ZM958 156.6V155.6H970V156.6ZM973 156.6V155.0H976V155.6H983V156.6ZM986 156.6V155.0H994V154.4H998V155.6H1001V156.6ZM1013 156.6V155.6H1016V156.6ZM1018 156.6V154.4H1026V155.6H1032V154.4H1034V155.6H1038V156.6ZM1068 156.6V155.6H1078V156.6ZM1087 156.6V155.6H1097V156.6ZM1127 156.6V155.6H1131V155.0H1135V155.6H1142V156.6ZM1172 156.6V155.6H1181V155.3H1184V155.6H1187V156.6ZM1189 156.6V155.6H1193V156.6ZM1200 156.6V155.6H1208V154.4H1211V155.0H1214V155.6H1215V156.6ZM1217 156.6V155.0H1220V156.6ZM1227 156.6V155.6H1231V155.0H1233V155.3H1235V155.6H1240V155.3H1243V155.6H1253V155.3H1258V155.6H1263V156.6ZM1293 156.6V154.4H1296V155.6H1299V155.3H1307V155.6H1311V155.0H1317V155.6H1321V154.4H1329V156.6ZM1345 156.6V155.3H1348V155.0H1350V155.6H1353V156.6ZM1365 156.6V155.0H1369V155.6H1379V155.0H1385V155.6H1391V155.3H1397V155.6H1401V156.6ZM1410 156.6V155.6H1413V156.6ZM1429 156.6V155.6H1437V155.0H1439V156.6ZM1442 156.6V155.3H1447V155.0H1450V155.6H1470V156.6ZM1472 156.6V155.6H1479V155.3H1483V155.6H1487V156.6ZM1488.5 156.6V155.6H1494.5V156.6ZM1501.5 156.6V155.6H1506.5V156.6ZM1511.5 156.6V155.6H1523.5V156.6ZM1535.5 156.6V155.6H1550.5V156.6ZM1552.5 156.6V155.3H1555.5V155.6H1557.5V156.6ZM1573.5 156.6V155.6H1575.5V154.4H1577.5V155.6H1585V154.6H1590V152.6H1594V148.6H1597.5V156.6ZM1607.5 156.6V155.3H1611.5V154.4H1615.5V156.6ZM1618.5 156.6V154.4H1622.5V155.6H1630.5V156.6ZM1652.5 156.6V155.6H1660.5V156.6ZM1672.5 156.6V155.0H1674.5V155.6H1682.5V156.6ZM1694.5 156.6V155.6H1698.5V154.4H1700.5V156.6ZM1703.5 156.6V155.3H1707.5V156.6ZM1710.5 156.6V155.3H1713.5V155.6H1715.5V156.6ZM1720.5 156.6V155.6H1737.5V155.0H1740.5V154.4H1745.5V155.0H1748.5V155.6H1756.5V156.6ZM1761.5 156.6V155.6H1764.5V156.6ZM1780.5 156.6V155.3H1782.5V155.6H1797.5V154.4H1801.5V155.3H1806.5V155.0H1808.5V156.6ZM1811.5 156.6V154.4H1813.5V155.6H1817V146.6H1820.5V156.6ZM1826.5 156.6V154.4H1828.5V155.6H1829.5V156.6ZM1832.5 156.6V154.4H1834.5V155.3H1839.5V155.6H1844.5V156.6ZM1866.5 156.6V155.6H1870.5V155.3H1876.5V156.6ZM1906.5 156.6V155.6H1916.5V155.0H1922.5V154.4H1928.5V155.6H1932.5V155.3H1934.5V156.6ZM1943.5 156.6V155.6H1948.5V156.6ZM1970.5 156.6V155.6H1975.5V154.4H1979.5V155.6H1981.5V155.0H1989.5V155.6H1998.5V156.6ZM2000 156.6V155.0H2008V155.6H2015V156.6ZM2037 156.6V155.3H2039V154.4H2041V155.6H2049V156.6ZM2061 156.6V155.6H2067V155.0H2073V156.6ZM2085 156.6V155.6H2089V156.6ZM2105 156.6V155.6H2141V156.6ZM2153 156.6V155.6H2156V156.6ZM2161 156.6V155.6H2165V156.6ZM2170 156.6V154.4H2175V155.6H2180V155.8H2193.75V154.9H2196.75V155.8H2202.25V154.1H2204V152.6H2205V144.0H2208V127.9H2211.75V139.8H2214V147.0H2217V147.8H2219.75V150.6H2222V153.1H2224.5V154.9H2226V153.9H2232V156.6ZM2240.25 156.6V114.1H2244V134.8H2245V147.8H2248.75V150.7H2253.25V147.8H2257V156.6ZM2258 156.6V135.8H2261.75V143.6H2263V147.8H2268.75V156.6ZM2271.25 156.6V131.9H2274.25V121.0H2278V134.8H2279V114.1H2292V156.6ZM2295 156.6V152.0H2297.25V149.1H2300.75V153.2H2303.5V152.8H2306.5V154.1H2309V147.4H2310.25V139.0H2312V123.1H2313.25V118.9H2315V114.1H2317.5V142.8H2320V156.6ZM2322.75 156.6V150.7H2326.5V152.8H2330V150.7H2334V156.6ZM2342 156.6V154.9H2350V156.6ZM2370 156.6V155.6H2382V156.6ZM2385 156.6V155.6H2393V155.0H2395V155.6H2401V154.4H2407V155.0H2412V155.6H2417V152.6H2423V156.6ZM2428 156.6V155.6H2430V155.0H2435V155.6H2438V156.6ZM2468 156.6V155.6H2478V156.6ZM2494 156.6V155.6H2496V155.0H2498V156.6ZM2500 156.6V155.6H2515V156.6ZM2531 156.6V154.4H2539V155.6H2546V156.6ZM2562 156.6V155.6H2564V154.4H2569V155.6H2570V156.6ZM2572 156.6V155.6H2574V155.0H2576V155.6H2577V156.6ZM2579 156.6V155.3H2587V154.4H2589V156.6ZM2596 156.6V154.4H2604V155.6H2608V155.0H2611V156.6ZM2614 156.6V155.6H2616V155.0H2624V155.6H2634V156.6ZM2635.5 156.6V155.6H2640.5V155.3H2641.5V156.6ZM2663.5 156.6V155.6H2671.5V155.3H2673.5V156.6ZM2676.5 156.6V155.6H2696.5V156.6ZM2698 156.6V154.4H2708V155.6H2718V156.6ZM2725 156.6V155.6H2731V155.3H2733V155.6H2746V154.4H2754V155.6H2761V156.6ZM2763 156.6V155.6H2771V156.6ZM2793 156.6V155.6H2799V154.4H2801V155.0H2803V156.6ZM2806 156.6V155.6H2813V154.4H2816V156.6ZM2821 156.6V154.4H2841V156.6ZM2863 156.6V155.6H2883V156.6ZM2892 156.6V154.4H2896V155.6H2898V155.0H2904V155.6H2928V156.6ZM2933 156.6V155.6H2938V155.0H2940V155.6H2953V155.0H2958V155.3H2961V156.6ZM2966 156.6V155.6H2971V155.0H2972V156.6ZM2984 156.6V155.6H2986V155.3H2990V156.6ZM2991.5 156.6V153.6H2994V142.1H3000V147.9H3004.25V151.8H3008V155.6H3011V155.3H3015V156.6ZM3017 156.6V153.6H3019.5V156.6ZM3028 156.6V142.6H3030.5V152.8H3033.5V154.4H3036V154.1H3051V156.6ZM3052.5 156.6V155.6H3065.5V155.0H3067.5V156.6ZM3074.5 156.6V155.6H3078.5V155.0H3080.5V156.6ZM3094.25 156.6V153.6H3098.5V148.4H3102V145.1H3105V141.6H3107V145.9H3108.75V156.6ZM3110.5 156.6V155.3H3112V151.0H3115.25V152.8H3119.75V155.6H3120.5V156.6ZM3136.5 156.6V155.0H3144.5V155.6H3146.5V156.6ZM3155.5 156.6V154.4H3157.5V155.6H3159.5V156.6ZM3164.5 156.6V155.6H3168.5V156.6ZM3173.5 156.6V155.6H3188.5V156.6ZM3193.5 156.6V155.6H3203.5V156.6ZM3208.5 156.6V155.3H3212.5V155.6H3223.5V156.6ZM3253.5 156.6V155.6H3261.5V155.3H3266.5V155.6H3274.5V154.4H3277.5V155.6H3281.5V156.6ZM3283 156.6V155.0H3288V155.6H3298V156.6ZM3307 156.6V155.6H3326V155.3H3332V155.0H3338V154.4H3343V156.6ZM3345 156.6V155.0H3349V155.3H3351.5V150.6H3356.75V154.4H3357V155.6H3381V156.6ZM3383 156.6V155.6H3386V155.0H3393V155.3H3395V156.6ZM3400 156.6V155.6H3405V155.0H3408V155.6H3410V155.3H3413V155.0H3415V156.6ZM3418 156.6V155.6H3430V156.6ZM3439 156.6V154.4H3443V156.6ZM3455 156.6V155.6H3470V156.6ZM3482 156.6V154.4H3486V156.6ZM3489 156.6V154.4H3494V156.6ZM3497 156.6V154.4H3500V156.6ZM3503 156.6V155.6H3519V155.0H3524V155.6H3531V156.6ZM3547 156.6V155.6H3551V154.4H3559V155.6H3576V155.0H3582V155.6H3583V156.6ZM3586 156.6V155.6H3590V152.6H3600V156.6Z"/>
<path fill="#80cc66" d="M2 201.7V200.2H12V201.7ZM15 201.7V200.2H20V198.4H27V201.7ZM28.5 201.7V200.2H31.5V199.3H32.5V201.7ZM54.5 201.7V200.2H58.5V201.7ZM67.5 201.7V199.3H71.5V200.2H76.5V199.3H78.5V200.2H84.5V199.3H87.5V200.2H91.5V199.8H95.5V201.7ZM97 201.7V200.2H102V199.8H104V200.2H117V201.7ZM122 201.7V200.2H125V201.7ZM127 201.7V199.8H139V201.7ZM151 201.7V199.3H153V198.4H155V201.7ZM160 201.7V200.2H164V201.7ZM170 201.7V198.2H173V195.7H177V188.7H181.5V195.7H184V198.7H188V200.2H198V201.7ZM199.5 201.7V199.8H201.5V200.2H211.5V199.3H216.5V196.9H218.25V170.2H227V184.2H228.75V201.7ZM229.5 201.7V198.4H232.5V200.2H235.5V201.7ZM265.5 201.7V200.2H268.5V201.7ZM298.5 201.7V199.3H306.5V200.2H322.5V198.4H325.5V200.2H326.5V201.7ZM338.5 201.7V200.2H341.5V201.7ZM346.5 201.7V200.2H349.5V201.7ZM371.5 201.7V198.4H373.5V200.2H376.5V201.7ZM383.5 201.7V200.2H395.5V201.7ZM398.5 201.7V200.2H418.5V201.7ZM420.5 201.7V200.2H429.5V199.8H437.5V199.3H443.5V200.2H448.5V201.7ZM455.5 201.7V200.2H459.5V199.3H463.5V200.2H471.5V198.4H475.5V201.7ZM478.5 201.7V200.2H482.5V201.7ZM512.5 201.7V200.2H526.5V199.8H531.5V200.2H540.5V201.7ZM545.5 201.7V200.2H555.5V201.7ZM557.5 201.7V200.2H562.5V199.3H564.5V200.2H577.5V201.7ZM579.5 201.7V198.4H585.5V200.2H588.5V198.4H593.5V200.2H607.5V201.7ZM609 201.7V199.8H612V199.3H615V200.2H628V199.3H636V200.2H637V201.7ZM642 201.7V198.4H646V200.2H654V199.3H656V200.2H657V201.7ZM679 201.7V199.8H681V200.2H691V201.7ZM700 201.7V200.2H715V201.7ZM745 201.7V199.3H751V198.4H755V200.2H760V201.7ZM769 201.7V199.3H772V199.8H777V201.7ZM782 201.7V200.2H787V201.7ZM792 201.7V198.4H796V201.7ZM826 201.7V200.2H834V201.7ZM856 201.7V200.2H871V201.7ZM880 201.7V200.2H882V198.4H888V200.2H891V198.4H895V201.7ZM902 201.7V200.2H910V199.3H916V200.2H926V199.8H930V201.7ZM932 201.7V200.2H936V201.7ZM958 201.7V198.4H966V200.2H970V201.7ZM973 201.7V200.2H976V199.8H983V201.7ZM986 201.7V198.4H994V200.2H1001V201.7ZM1013 201.7V200.2H1016V201.7ZM1018 201.7V200.2H1031V199.8H1034V200.2H1037V199.3H1038V201.7ZM1068 201.7V200.2H1078V201.7ZM1087 201.7V200.2H1089V198.4H1093V200.2H1097V201.7ZM1127 201.7V200.2H1141V199.3H1142V201.7ZM1172 201.7V200.2H1187V201.7ZM1189 201.7V199.3H1193V201.7ZM1200 201.7V199.8H1202V200.2H1206V199.8H1208V199.3H1211V200.2H1215V201.7ZM1217 201.7V200.2H1220V201.7ZM1227 201.7V199.3H1232V200.2H1257V198.4H1260V199.3H1263V201.7ZM1293 201.7V200.2H1297V198.4H1302V200.2H1318V199.3H1329V201.7ZM1338 201.7V196.7H1341.5V201.7ZM1345 201.7V200.2H1353V201.7ZM1365 201.7V200.2H1379V199.3H1382V200.2H1395V199.3H1401V201.7ZM1410 201.7V198.4H1412V199.3H1413V201.7ZM1429 201.7V200.2H1438V198.4H1439V201.7ZM1442 201.7V198.4H1445V199.8H1459V200.2H1470V201.7ZM1472 201.7V200.2H1487V201.7ZM1488.5 201.7V200.2H1494.5V201.7ZM1501.5 201.7V200.2H1504.5V198.4H1506.5V201.7ZM1511.5 201.7V199.3H1514.5V200.2H1516.5V199.3H1521.5V200.2H1523.5V201.7ZM1535.5 201.7V200.2H1538.5V199.3H1546.5V200.2H1550.5V201.7ZM1552.5 201.7V200.2H1557.5V201.7ZM1573.5 201.7V200.2H1585.5V201.7ZM1607.5 201.7V199.8H1615.5V201.7ZM1618.5 201.7V200.2H1630.5V201.7ZM1652.5 201.7V199.8H1656.5V200.2H1660.5V201.7ZM1672.5 201.7V200.2H1682.5V201.7ZM1694.5 201.7V199.8H1700.5V201.7ZM1703.5 201.7V200.2H1707.5V201.7ZM1710.5 201.7V200.2H1715.5V201.7ZM1720.5 201.7V199.8H1726.5V200.2H1729.5V199.3H1732.5V200.2H1740.5V199.8H1750.5V200.2H1755.5V199.8H1756.5V201.7ZM1761.5 201.7V200.2H1764.5V201.7ZM1780.5 201.7V200.2H1788.5V198.4H1791.5V200.2H1801.5V199.8H1803.5V198.4H1808.5V201.7ZM1811.5 201.7V200.2H1816V190.7H1820.5V201.7ZM1826.5 201.7V200.2H1829.5V201.7ZM1832.5 201.7V199.3H1837.5V200.2H1844.5V201.7ZM1866.5 201.7V199.3H1870.5V200.2H1874.5V199.3H1876.5V201.7ZM1906.5 201.7V200.2H1931.5V199.3H1933.5V200.2H1934.5V201.7ZM1943.5 201.7V200.2H1948.5V201.7ZM1970.5 201.7V200.2H1976.5V198.4H1979.5V200.2H1998.5V201.7ZM2000 201.7V199.8H2003V200.2H2015V201.7ZM2037 201.7V200.2H2049V201.7ZM2061 201.7V198.4H2066V200.2H2073V201.7ZM2085 201.7V200.2H2089V201.7ZM2105 201.7V200.2H2141V201.7ZM2153 201.7V199.8H2156V201.7ZM2161 201.7V199.3H2163V200.2H2165V201.7ZM2170 201.7V199.8H2175V200.2H2180V200.3H2203.5V198.7H2205V194.0H2208V184.1H2211.75V184.9H2214V190.2H2217V193.2H2219.75V195.7H2223.25V197.8H2224.5V194.8H2228.25V196.9H2229.5V194.0H2232V201.7ZM2240.25 201.7V159.2H2244V189.8H2245.5V189.0H2249V196.1H2253.25V186.0H2257V201.7ZM2258 201.7V186.9H2261.75V191.1H2263.5V194.0H2265V193.2H2268.75V201.7ZM2271.25 201.7V192.1H2274.25V173.0H2278V184.9H2279V160.1H2281.5V159.2H2292V201.7ZM2295.25 201.7V198.2H2296V194.0H2300.75V194.8H2302.75V198.2H2309V193.2H2310.25V191.9H2312.5V186.9H2315V184.1H2317.75V189.0H2320V201.7ZM2323.25 201.7V198.0H2326.5V199.0H2330.75V198.0H2334V201.7ZM2342 201.7V199.9H2347.5V198.2H2350V198.7H2360V201.7ZM2370 201.7V199.8H2376V200.2H2382V201.7ZM2385 201.7V200.2H2391V198.4H2393V199.8H2395V198.4H2398V199.3H2406V200.2H2421V201.7ZM2428 201.7V198.4H2434V200.2H2438V201.7ZM2468 201.7V200.2H2471V199.3H2478V201.7ZM2494 201.7V200.2H2498V201.7ZM2500 201.7V198.4H2502V200.2H2515V201.7ZM2531 201.7V199.3H2534V200.2H2544V198.4H2546V201.7ZM2562 201.7V200.2H2570V201.7ZM2572 201.7V200.2H2577V201.7ZM2579 201.7V200.2H2582V199.3H2588V200.2H2589V201.7ZM2596 201.7V200.2H2608V199.8H2611V201.7ZM2614 201.7V200.2H2634V201.7ZM2635.5 201.7V198.4H2641.5V201.7ZM2642.25 201.7V199.1H2646.5V201.7ZM2650.5 201.7V199.1H2654.25V181.3H2657.5V186.9H2662V201.7ZM2663.5 201.7V199.3H2665.5V200.2H2670.5V199.3H2672.5V200.2H2673.5V201.7ZM2676.5 201.7V200.2H2693.5V199.3H2696.5V201.7ZM2698 201.7V200.2H2704V199.7H2706.5V195.8H2711.75V194.7H2714.75V200.2H2718V201.7ZM2725 201.7V199.3H2726.5V194.7H2729V198.4H2732V200.2H2733V198.4H2739V200.2H2752V199.8H2759V200.2H2761V201.7ZM2763 201.7V200.2H2769V198.4H2771V201.7ZM2793 201.7V200.2H2799V198.4H2803V201.7ZM2806 201.7V198.4H2814V200.2H2816V201.7ZM2821 201.7V200.2H2841V201.7ZM2863 201.7V199.8H2866V200.2H2883V201.7ZM2892 201.7V198.4H2895V200.2H2916V198.4H2922V200.2H2928V201.7ZM2933 201.7V199.3H2936V200.2H2944V199.3H2952V200.2H2954V199.3H2959V199.8H2961V201.7ZM2966 201.7V200.2H2969V198.4H2972V201.7ZM2984 201.7V199.8H2990V201.7ZM2991.5 201.7V195.8H2994V181.7H2997.25V176.7H3000V193.3H3004.25V197.1H3008V200.2H3015V201.7ZM3017 201.7V197.9H3019.5V201.7ZM3028 201.7V196.6H3030.5V201.7ZM3031 201.7V199.3H3036V200.2H3041V201.7ZM3042.5 201.7V200.2H3045.5V201.7ZM3052.5 201.7V198.4H3057.5V200.2H3064.5V199.3H3067.5V201.7ZM3074.5 201.7V200.2H3078.5V199.3H3080.5V201.7ZM3094.25 201.7V197.9H3098.5V192.0H3102V188.9H3105V186.1H3107V194.6H3108.75V201.7ZM3110.5 201.7V200.2H3112V197.9H3119.75V200.2H3120.5V201.7ZM3136.5 201.7V200.2H3146.5V201.7ZM3155.5 201.7V198.4H3159.5V201.7ZM3164.5 201.7V198.4H3168.5V201.7ZM3173.5 201.7V199.8H3179.5V199.3H3187.5V200.2H3188.5V201.7ZM3193.5 201.7V200.2H3203.5V201.7ZM3208.5 201.7V200.2H3223.5V201.7ZM3253.5 201.7V200.2H3262.5V198.4H3270.5V200.2H3281.5V201.7ZM3283 201.7V199.8H3289V200.2H3298V201.7ZM3307 201.7V200.2H3311V198.4H3317V199.8H3325V200.2H3330V198.4H3341V200.2H3343V201.7ZM3345 201.7V200.2H3381V201.7ZM3383 201.7V200.2H3395V201.7ZM3400 201.7V200.2H3404V198.4H3407V199.3H3409V200.2H3412V199.3H3415V201.7ZM3418 201.7V200.2H3423V198.4H3429V200.2H3430V201.7ZM3439 201.7V200.2H3443V201.7ZM3455 201.7V200.2H3463V198.4H3469V200.2H3470V201.7ZM3482 201.7V200.2H3486V201.7ZM3489 201.7V200.2H3494V201.7ZM3497 201.7V199.3H3500V201.7ZM3501 201.7V199.7H3509V199.3H3514V199.7H3518V198.4H3522V199.7H3529V199.3H3531V199.7H3532.5V201.7ZM3534.75 201.7V185.7H3537.75V189.1H3541V195.4H3545V197.5H3562V189.1H3566.25V199.8H3570V200.2H3583V195.4H3587.5V194.1H3593.75V197.5H3596.5V193.3H3600V201.7Z"/>
<path fill="#648c66" d="M2 246.8V245.8H5V244.6H8V245.8H12V246.8ZM15 246.8V245.8H20V245.5H26V245.8H27V246.8ZM28.5 246.8V244.6H32.5V246.8ZM54.5 246.8V244.6H58.5V246.8ZM67.5 246.8V245.5H70.5V245.8H91.5V245.2H95.5V246.8ZM97 246.8V245.8H103V244.6H111V245.8H117V246.8ZM122 246.8V245.5H125V246.8ZM127 246.8V245.2H135V245.8H139V246.8ZM151 246.8V245.8H154V245.5H155V246.8ZM160 246.8V245.8H164V246.8ZM174 246.8V243.8H181V246.8ZM186 246.8V245.5H198V246.8ZM199.5 246.8V245.8H227.5V246.8ZM229.5 246.8V245.2H235.5V246.8ZM265.5 246.8V245.8H268.5V246.8ZM298.5 246.8V245.2H302.5V244.6H315.5V245.8H326.5V246.8ZM338.5 246.8V245.8H341.5V246.8ZM346.5 246.8V244.6H349.5V246.8ZM371.5 246.8V245.8H376.5V246.8ZM383.5 246.8V245.8H395.5V246.8ZM398.5 246.8V245.8H412.5V245.5H418.5V246.8ZM420.5 246.8V245.8H448.5V246.8ZM455.5 246.8V244.6H458.5V245.8H463.5V245.2H466.5V245.8H474.5V245.5H475.5V246.8ZM478.5 246.8V245.8H482.5V246.8ZM512.5 246.8V245.8H526.5V245.2H534.5V245.8H540.5V246.8ZM545.5 246.8V245.8H555.5V246.8ZM557.5 246.8V245.2H562.5V245.8H577.5V246.8ZM579.5 246.8V245.5H582.5V245.2H590.5V245.8H602.5V245.5H605.5V245.8H607.5V246.8ZM609 246.8V245.8H637V246.8ZM642 246.8V245.8H652V245.2H655V245.5H657V246.8ZM679 246.8V245.8H684V244.6H688V245.2H691V246.8ZM700 246.8V245.8H715V246.8ZM745 246.8V245.8H760V246.8ZM769 246.8V244.6H777V246.8ZM782 246.8V245.8H787V246.8ZM792 246.8V245.8H796V246.8ZM826 246.8V245.8H834V246.8ZM856 246.8V244.6H860V245.8H871V246.8ZM880 246.8V245.8H885V245.5H893V245.8H895V246.8ZM902 246.8V245.8H916V245.2H919V245.8H930V246.8ZM932 246.8V245.8H934V245.2H936V246.8ZM958 246.8V245.8H970V246.8ZM973 246.8V245.2H981V245.8H983V246.8ZM986 246.8V245.8H999V245.2H1001V246.8ZM1013 246.8V245.5H1016V246.8ZM1018 246.8V245.2H1023V245.5H1031V245.8H1038V246.8ZM1068 246.8V245.8H1078V246.8ZM1087 246.8V245.8H1093V244.6H1095V245.8H1097V246.8ZM1127 246.8V244.6H1135V245.8H1142V246.8ZM1172 246.8V245.8H1187V246.8ZM1189 246.8V245.2H1192V245.5H1193V246.8ZM1200 246.8V245.8H1214V245.5H1215V246.8ZM1217 246.8V244.6H1220V246.8ZM1227 246.8V244.6H1229V245.5H1231V244.6H1237V245.8H1255V242.8H1262V245.8H1263V246.8ZM1293 246.8V245.8H1299V245.2H1303V245.8H1329V246.8ZM1345 246.8V245.8H1353V246.8ZM1365 246.8V244.6H1367V245.8H1379V245.5H1388V245.8H1390V245.2H1398V244.6H1401V246.8ZM1410 246.8V245.8H1413V246.8ZM1429 246.8V245.8H1439V246.8ZM1442 246.8V245.8H1445V245.5H1450V245.8H1469V244.6H1470V246.8ZM1472 246.8V245.2H1477V245.8H1487V246.8ZM1488.5 246.8V244.6H1492.5V245.8H1494.5V246.8ZM1501.5 246.8V245.8H1506.5V246.8ZM1511.5 246.8V245.8H1514.5V245.2H1519.5V244.6H1522.5V245.8H1523.5V246.8ZM1535.5 246.8V244.6H1541.5V245.8H1547.5V245.2H1550.5V246.8ZM1552.5 246.8V245.2H1556.5V245.8H1557.5V246.8ZM1573.5 246.8V245.8H1585.5V246.8ZM1590 246.8V243.8H1597.5V246.8ZM1607.5 246.8V245.8H1615.5V246.8ZM1618.5 246.8V245.8H1630.5V246.8ZM1652.5 246.8V245.8H1657.5V244.6H1660.5V246.8ZM1672.5 246.8V245.8H1676.5V245.5H1682.5V246.8ZM1694.5 246.8V245.8H1700.5V246.8ZM1703.5 246.8V245.8H1707.5V246.8ZM1710.5 246.8V245.8H1715.5V246.8ZM1720.5 246.8V245.2H1723.5V245.8H1745.5V245.5H1750.5V245.8H1756.5V246.8ZM1761.5 246.8V245.8H1764.5V246.8ZM1780.5 246.8V245.2H1788.5V244.6H1791.5V245.5H1799.5V245.8H1808.5V246.8ZM1811.5 246.8V245.5H1813.5V245.2H1817.5V245.8H1819.5V246.8ZM1826.5 246.8V245.8H1828.5V244.6H1829.5V246.8ZM1832.5 246.8V245.8H1844.5V246.8ZM1866.5 246.8V245.2H1876.5V246.8ZM1906.5 246.8V245.8H1921.5V245.5H1931.5V245.8H1934.5V246.8ZM1943.5 246.8V245.8H1948.5V246.8ZM1970.5 246.8V245.8H1973.5V245.2H1979.5V245.5H1982.5V245.8H1990.5V245.2H1996.5V245.8H1998.5V246.8ZM2000 246.8V245.2H2004V245.8H2010V244.6H2015V246.8ZM2037 246.8V245.5H2043V245.8H2049V246.8ZM2061 246.8V245.8H2065V245.2H2073V246.8ZM2085 246.8V245.8H2089V246.8ZM2105 246.8V245.8H2121V244.6H2124V245.5H2129V245.8H2135V245.2H2141V246.8ZM2153 246.8V245.8H2156V246.8ZM2161 246.8V245.8H2165V246.8ZM2170 246.8V244.6H2172V245.8H2177V244.6H2180V245.4H2203V244.1H2205V238.3H2208V232.2H2211.75V237.4H2214V239.1H2217V234.2H2220.25V238.3H2222.75V243.3H2224.5V244.1H2232V246.8ZM2240.25 246.8V204.3H2244V234.1H2245.5V239.1H2249V240.8H2253.25V237.0H2257V246.8ZM2258 246.8V214.1H2261.75V219.8H2263.5V228.2H2265V231.1H2268.75V246.8ZM2271.25 246.8V204.3H2292V246.8ZM2295.25 246.8V236.2H2299V238.3H2301V241.6H2303.25V243.1H2307.5V241.2H2309V229.0H2310.75V211.9H2312.5V204.3H2317.75V219.4H2320V246.8ZM2323.25 246.8V238.3H2326.5V241.2H2330.75V239.1H2334V246.8ZM2370 246.8V245.5H2375V245.8H2382V246.8ZM2385 246.8V245.5H2390V245.8H2399V245.2H2407V244.6H2412V245.8H2417V244.3H2423V246.8ZM2428 246.8V245.2H2434V245.8H2438V246.8ZM2468 246.8V244.6H2472V245.8H2478V246.8ZM2494 246.8V245.8H2498V246.8ZM2500 246.8V245.8H2507V244.6H2510V245.8H2515V246.8ZM2531 246.8V245.8H2538V244.6H2542V245.2H2546V246.8ZM2562 246.8V245.5H2568V245.8H2570V246.8ZM2572 246.8V245.8H2574V245.5H2577V246.8ZM2579 246.8V244.6H2582V245.2H2588V245.8H2589V246.8ZM2596 246.8V245.5H2598V245.8H2603V245.2H2611V246.8ZM2614 246.8V245.8H2622V245.5H2626V244.6H2631V245.8H2634V246.8ZM2635.5 246.8V245.5H2641.5V246.8ZM2663.5 246.8V245.8H2673.5V246.8ZM2676.5 246.8V245.8H2691.5V244.6H2696.5V246.8ZM2698 246.8V245.5H2706V245.8H2718V246.8ZM2725 246.8V245.8H2761V246.8ZM2763 246.8V245.8H2771V246.8ZM2793 246.8V244.6H2796V245.8H2803V246.8ZM2806 246.8V245.8H2816V246.8ZM2821 246.8V245.8H2841V246.8ZM2863 246.8V245.2H2866V245.8H2874V245.5H2879V245.8H2883V246.8ZM2892 246.8V245.8H2894V245.2H2900V244.6H2903V245.5H2909V245.8H2911V245.5H2917V245.8H2928V246.8ZM2933 246.8V245.8H2961V246.8ZM2966 246.8V245.8H2972V246.8ZM2984 246.8V245.8H2990V246.8ZM2991.5 246.8V243.8H2994V240.4H3000V243.8H3004.25V245.8H3006V245.5H3010V245.8H3012V244.6H3015V246.8ZM3028 246.8V233.5H3030.5V246.8ZM3031 246.8V245.2H3037V245.8H3041V246.8ZM3042.5 246.8V244.6H3045.5V246.8ZM3052.5 246.8V245.8H3064.5V245.2H3067.5V246.8ZM3074.5 246.8V245.8H3080.5V246.8ZM3094.25 246.8V242.5H3098.5V236.1H3102V220.8H3105V204.3H3107V210.8H3108.75V246.8ZM3110.5 246.8V245.8H3112V233.5H3115.25V238.6H3119.75V245.8H3120.5V246.8ZM3136.5 246.8V245.8H3146.5V246.8ZM3155.5 246.8V245.2H3159.5V246.8ZM3164.5 246.8V245.8H3168.5V246.8ZM3173.5 246.8V245.8H3187.5V245.5H3188.5V246.8ZM3193.5 246.8V245.5H3198.5V245.8H3203.5V246.8ZM3208.5 246.8V245.8H3222.5V245.5H3223.5V246.8ZM3253.5 246.8V245.8H3265.5V245.2H3267.5V244.6H3273.5V245.2H3280.5V245.5H3281.5V246.8ZM3283 246.8V245.8H3285V244.6H3287V245.2H3291V245.8H3297V245.5H3298V246.8ZM3307 246.8V245.8H3315V245.5H3318V245.8H3343V246.8ZM3345 246.8V245.2H3348V245.8H3354V244.6H3360V245.8H3374V244.6H3379V245.8H3381V246.8ZM3383 246.8V245.8H3392V245.5H3395V246.8ZM3400 246.8V245.5H3406V245.2H3412V245.8H3415V246.8ZM3418 246.8V245.8H3420V245.2H3430V246.8ZM3439 246.8V245.2H3441V245.8H3443V246.8ZM3455 246.8V245.8H3465V244.6H3470V246.8ZM3482 246.8V245.8H3486V246.8ZM3489 246.8V245.8H3493V245.2H3494V246.8ZM3497 246.8V245.8H3499V244.6H3500V246.8ZM3503 246.8V244.6H3507V245.8H3517V244.6H3522V245.2H3526V245.5H3531V246.8ZM3547 246.8V245.5H3549V245.2H3552V245.8H3583V243.8H3588V240.8H3594V236.8H3600V246.8Z"/>
<path fill="#5050e0" d="M2 291.9V289.8H10V290.6H12V291.9ZM15 291.9V290.6H27V291.9ZM28.5 291.9V290.2H32.5V291.9ZM54.5 291.9V290.6H58.5V291.9ZM67.5 291.9V290.6H93.5V289.0H95.5V291.9ZM97 291.9V290.6H101V290.2H117V291.9ZM122 291.9V290.6H125V291.9ZM127 291.9V290.6H132V289.0H139V291.9ZM151 291.9V290.6H155V291.9ZM160 291.9V290.6H164V291.9ZM186 291.9V289.0H197V290.6H198V291.9ZM199.5 291.9V290.6H204.5V290.2H207.5V290.6H213.5V289.8H215.5V290.6H227.5V291.9ZM229.5 291.9V289.8H233.5V290.6H235.5V291.9ZM265.5 291.9V290.6H268.5V291.9ZM298.5 291.9V290.2H306.5V290.6H310.5V289.8H316.5V290.2H322.5V289.8H326.5V291.9ZM338.5 291.9V290.6H341.5V291.9ZM346.5 291.9V289.8H349.5V291.9ZM371.5 291.9V290.6H376.5V291.9ZM383.5 291.9V289.0H385.5V290.6H394.5V290.2H395.5V291.9ZM398.5 291.9V290.6H401.5V290.2H409.5V289.8H411.5V290.6H416.5V289.0H418.5V291.9ZM420.5 291.9V290.6H448.5V291.9ZM455.5 291.9V290.6H458.5V289.0H462.5V290.6H468.5V289.8H475.5V291.9ZM478.5 291.9V290.6H482.5V291.9ZM512.5 291.9V290.6H516.5V290.2H518.5V290.6H526.5V290.2H531.5V290.6H535.5V289.0H540.5V291.9ZM545.5 291.9V290.2H549.5V290.6H555.5V291.9ZM557.5 291.9V289.8H562.5V290.2H566.5V290.6H569.5V289.8H574.5V289.0H577.5V291.9ZM579.5 291.9V290.6H587.5V289.8H589.5V290.6H594.5V289.8H600.5V290.2H607.5V291.9ZM609 291.9V290.6H619V289.0H627V290.6H637V291.9ZM642 291.9V290.6H651V289.0H653V290.6H657V291.9ZM679 291.9V290.2H683V290.6H685V289.8H690V290.6H691V291.9ZM700 291.9V289.0H705V290.6H715V291.9ZM745 291.9V289.0H753V290.6H757V289.8H760V291.9ZM769 291.9V290.6H777V291.9ZM782 291.9V290.6H787V291.9ZM792 291.9V290.6H796V291.9ZM826 291.9V290.6H834V291.9ZM856 291.9V290.2H860V290.6H871V291.9ZM880 291.9V289.8H883V290.6H895V291.9ZM902 291.9V289.0H904V290.6H913V289.8H916V289.0H920V289.8H924V289.0H930V291.9ZM932 291.9V290.6H936V291.9ZM958 291.9V290.6H970V291.9ZM973 291.9V290.6H983V291.9ZM986 291.9V290.6H988V289.0H996V290.6H1001V291.9ZM1013 291.9V290.6H1016V291.9ZM1018 291.9V289.0H1023V290.6H1038V291.9ZM1068 291.9V290.6H1078V291.9ZM1087 291.9V289.8H1090V290.2H1094V290.6H1097V291.9ZM1127 291.9V290.6H1141V289.8H1142V291.9ZM1172 291.9V290.6H1184V289.0H1187V291.9ZM1189 291.9V289.8H1192V290.6H1193V291.9ZM1200 291.9V290.6H1215V291.9ZM1217 291.9V290.6H1220V291.9ZM1227 291.9V289.8H1241V289.0H1247V290.6H1263V291.9ZM1285 291.9V288.9H1292V291.9ZM1293 291.9V290.6H1315V289.8H1323V290.6H1328V290.2H1329V291.9ZM1345 291.9V290.6H1350V289.0H1353V291.9ZM1365 291.9V290.6H1370V289.8H1376V290.6H1398V290.2H1401V291.9ZM1410 291.9V290.6H1413V291.9ZM1429 291.9V289.8H1432V290.6H1439V291.9ZM1442 291.9V290.6H1466V289.8H1468V290.6H1470V291.9ZM1472 291.9V289.0H1478V290.6H1482V290.2H1487V291.9ZM1488.5 291.9V290.2H1494.5V291.9ZM1501.5 291.9V290.6H1506.5V291.9ZM1511.5 291.9V290.6H1513.5V289.0H1521.5V290.6H1523.5V291.9ZM1535.5 291.9V289.8H1540.5V289.0H1543.5V290.6H1550.5V291.9ZM1552.5 291.9V290.2H1557.5V291.9ZM1573.5 291.9V290.6H1576.5V289.8H1582.5V290.6H1585.5V291.9ZM1590 291.9V288.9H1597.5V291.9ZM1607.5 291.9V290.6H1615.5V291.9ZM1618.5 291.9V290.6H1630.5V291.9ZM1652.5 291.9V290.2H1660.5V291.9ZM1672.5 291.9V290.2H1680.5V290.6H1682.5V291.9ZM1694.5 291.9V289.8H1700.5V291.9ZM1703.5 291.9V290.6H1707.5V291.9ZM1710.5 291.9V290.2H1712.5V290.6H1715.5V291.9ZM1720.5 291.9V290.6H1724.5V289.8H1730.5V290.2H1736.5V290.6H1750.5V290.2H1752.5V290.6H1756.5V291.9ZM1761.5 291.9V290.6H1764.5V291.9ZM1780.5 291.9V290.6H1793.5V289.0H1801.5V290.6H1808.5V291.9ZM1811.5 291.9V289.0H1817.5V290.6H1819.5V291.9ZM1826.5 291.9V290.2H1829.5V291.9ZM1832.5 291.9V289.8H1838.5V290.6H1844.5V291.9ZM1866.5 291.9V290.6H1873.5V289.0H1875.5V290.6H1876.5V291.9ZM1906.5 291.9V290.6H1910.5V289.8H1918.5V290.6H1934.5V291.9ZM1943.5 291.9V290.6H1945.5V289.0H1948.5V291.9ZM1970.5 291.9V290.6H1975V288.9H1985V289.0H1991.5V290.6H1997.5V289.8H1998.5V291.9ZM2000 291.9V290.2H2003V290.6H2005V287.9H2012V289.8H2015V291.9ZM2018 291.9V286.9H2025V291.9ZM2037 291.9V290.2H2039V289.8H2046V289.0H2049V291.9ZM2061 291.9V290.6H2066V289.8H2071V289.0H2073V291.9ZM2085 291.9V290.6H2089V291.9ZM2105 291.9V290.6H2108V289.8H2114V290.6H2125V289.0H2128V290.6H2141V291.9ZM2153 291.9V290.6H2156V291.9ZM2161 291.9V290.6H2165V291.9ZM2170 291.9V290.6H2180V290.5H2187V289.2H2196.75V290.1H2204V288.4H2205.5V284.2H2208V274.3H2211.5V271.2H2214V276.2H2217V281.3H2218V283.4H2221V287.1H2224.5V286.3H2229.5V285.0H2232V291.9ZM2240.25 291.9V264.1H2244V277.1H2247.5V280.4H2249V288.2H2251.25V287.1H2253.25V284.2H2257V291.9ZM2258 291.9V268.3H2261.75V282.5H2263.5V284.2H2265V286.3H2268.75V291.9ZM2271.25 291.9V285.0H2274.25V280.4H2278V283.4H2279.25V274.6H2281.5V249.4H2288V264.1H2289V270.4H2292V291.9ZM2295.25 291.9V288.4H2296.5V284.2H2302V288.2H2304V286.3H2310.25V285.0H2312.5V282.3H2315.25V279.3H2317.75V285.0H2320V291.9ZM2323.25 291.9V287.1H2326.5V288.2H2330.75V287.1H2334V291.9ZM2342 291.9V290.5H2344.25V289.2H2347.5V288.2H2350V288.9H2360V291.9ZM2370 291.9V290.6H2372V287.9H2392V288.4H2403V290.6H2417V288.9H2423V291.9ZM2428 291.9V290.2H2430V290.6H2436V289.8H2438V291.9ZM2468 291.9V290.6H2478V291.9ZM2494 291.9V290.6H2498V291.9ZM2500 291.9V290.6H2510V289.0H2515V291.9ZM2531 291.9V289.0H2537V290.6H2546V291.9ZM2562 291.9V290.6H2570V291.9ZM2572 291.9V290.2H2575V289.0H2577V291.9ZM2579 291.9V290.6H2583V289.8H2589V291.9ZM2596 291.9V290.6H2601V290.2H2605V290.6H2611V291.9ZM2614 291.9V290.6H2623V290.2H2625V290.6H2629V289.8H2632V290.6H2634V291.9ZM2635.5 291.9V290.6H2641.5V291.9ZM2657.5 291.9V281.9H2662V291.9ZM2663.5 291.9V290.6H2671.5V289.0H2673.5V291.9ZM2676.5 291.9V289.8H2681.5V290.6H2692.5V289.0H2696.5V291.9ZM2698 291.9V290.6H2713V289.8H2718V291.9ZM2725 291.9V290.6H2761V291.9ZM2763 291.9V289.0H2765V290.6H2771V291.9ZM2793 291.9V290.2H2799V290.6H2803V291.9ZM2806 291.9V289.8H2808V290.6H2816V291.9ZM2821 291.9V290.6H2831V289.8H2835V290.6H2841V291.9ZM2863 291.9V290.6H2883V291.9ZM2892 291.9V290.6H2921V289.0H2926V290.6H2928V291.9ZM2933 291.9V290.6H2937V290.2H2945V290.6H2957V289.8H2960V289.0H2961V291.9ZM2966 291.9V290.6H2972V291.9ZM2984 291.9V290.6H2990V291.9ZM2991.5 291.9V289.3H2994V286.8H3000V289.3H3004.25V290.2H3007V289.0H3015V291.9ZM3017 291.9V287.3H3019.5V291.9ZM3028 291.9V282.5H3030.5V291.9ZM3031 291.9V290.6H3036V289.3H3037V289.0H3040V287.6H3045V288.9H3051V291.9ZM3052.5 291.9V290.6H3067.5V291.9ZM3074.5 291.9V289.8H3076.5V290.6H3080.5V291.9ZM3083.25 291.9V288.6H3088.5V291.9ZM3094.25 291.9V284.2H3098.5V276.6H3102V279.7H3105V281.7H3108.75V291.9ZM3110.5 291.9V290.6H3112V286.8H3116.5V289.0H3118.5V289.3H3119.75V290.6H3120.5V291.9ZM3136.5 291.9V290.6H3146.5V291.9ZM3155.5 291.9V290.2H3158.5V290.6H3159.5V291.9ZM3164.5 291.9V290.6H3168.5V291.9ZM3173.5 291.9V290.6H3184.5V290.2H3188.5V291.9ZM3193.5 291.9V290.6H3203.5V291.9ZM3208.5 291.9V289.0H3216.5V290.6H3223.5V291.9ZM3224 291.9V283.9H3230V291.9ZM3253.5 291.9V290.6H3278.5V289.0H3281.5V291.9ZM3283 291.9V290.6H3289V289.8H3292V290.6H3298V291.9ZM3307 291.9V290.6H3321V289.8H3323V290.6H3336V290.2H3339V290.6H3343V291.9ZM3345 291.9V290.6H3380V284.9H3386V290.6H3389V289.8H3394V290.2H3395V291.9ZM3400 291.9V290.2H3402V290.6H3407V290.2H3412V289.8H3415V291.9ZM3418 291.9V290.6H3430V291.9ZM3439 291.9V290.6H3443V291.9ZM3455 291.9V290.6H3457V290.2H3461V290.6H3470V291.9ZM3482 291.9V290.6H3486V291.9ZM3489 291.9V290.6H3494V291.9ZM3497 291.9V290.6H3500V291.9ZM3503 291.9V289.0H3505V290.6H3513V289.8H3515V288.5H3534.75V284.3H3541V288.5H3551.5V289.0H3554V290.6H3560V285.6H3566.25V290.6H3569V289.0H3571V290.6H3583V282.2H3587.5V280.1H3590.75V287.3H3596.5V267.5H3600V291.9Z"/>
<path fill="#4e9c8c" d="M2 337.0V335.7H12V337.0ZM15 337.0V335.7H27V337.0ZM28.5 337.0V335.7H32.5V337.0ZM54.5 337.0V335.7H58.5V337.0ZM67.5 337.0V335.7H94.5V334.9H95.5V337.0ZM97 337.0V335.7H117V337.0ZM122 337.0V335.7H125V337.0ZM127 337.0V335.3H133V335.7H137V334.1H139V337.0ZM151 337.0V335.7H154V334.9H155V337.0ZM160 337.0V334.9H164V335.1H167V333.3H169.75V330.3H172.5V312.0H182V332.5H184V337.0ZM186 337.0V335.7H197V334.1H198V337.0ZM199.5 337.0V335.7H202.5V335.3H208.5V335.7H215.5V334.9H218.5V335.7H227.5V337.0ZM229.5 337.0V335.7H231.5V334.1H235.5V337.0ZM265.5 337.0V335.3H268.5V337.0ZM298.5 337.0V334.1H311.5V335.3H314.5V335.7H326.5V337.0ZM338.5 337.0V334.9H341.5V337.0ZM346.5 337.0V334.1H349.5V337.0ZM371.5 337.0V335.7H376.5V337.0ZM383.5 337.0V335.7H393.5V334.9H395.5V337.0ZM398.5 337.0V335.7H418.5V337.0ZM420.5 337.0V335.7H443.5V335.3H446.5V334.1H448.5V337.0ZM455.5 337.0V335.7H475.5V337.0ZM478.5 337.0V334.1H482.5V337.0ZM512.5 337.0V335.7H520.5V334.1H526.5V334.9H532.5V335.7H540.5V337.0ZM545.5 337.0V335.7H551.5V334.9H553.5V335.3H555.5V337.0ZM557.5 337.0V335.3H560.5V334.9H566.5V335.7H577.5V337.0ZM579.5 337.0V335.7H586.5V334.1H589.5V335.3H593.5V335.7H595.5V334.1H599.5V335.7H607.5V337.0ZM609 337.0V335.7H637V337.0ZM642 337.0V334.9H648V335.7H657V337.0ZM679 337.0V335.7H683V334.9H688V334.1H691V337.0ZM700 337.0V335.7H715V337.0ZM745 337.0V335.7H754V335.3H757V335.7H760V337.0ZM769 337.0V335.7H772V334.1H774V335.7H777V337.0ZM782 337.0V335.7H787V337.0ZM792 337.0V335.7H796V337.0ZM826 337.0V335.7H833V334.9H834V337.0ZM856 337.0V335.7H859V334.1H861V335.7H871V337.0ZM880 337.0V335.3H883V334.1H885V335.7H895V337.0ZM902 337.0V335.7H916V334.1H918V335.7H930V337.0ZM932 337.0V335.7H936V337.0ZM958 337.0V335.7H963V334.9H970V337.0ZM973 337.0V335.7H982V334.1H983V337.0ZM986 337.0V335.7H1001V337.0ZM1013 337.0V334.1H1016V337.0ZM1018 337.0V335.7H1038V337.0ZM1068 337.0V334.1H1074V335.7H1078V337.0ZM1087 337.0V335.7H1089V334.9H1091V335.7H1093V335.3H1097V337.0ZM1127 337.0V335.7H1142V337.0ZM1172 337.0V335.7H1185V335.3H1187V337.0ZM1189 337.0V334.1H1193V337.0ZM1200 337.0V335.7H1212V334.1H1215V337.0ZM1217 337.0V335.7H1220V337.0ZM1227 337.0V335.7H1239V335.3H1242V334.1H1248V335.7H1263V337.0ZM1293 337.0V335.7H1299V334.9H1304V335.7H1306V334.1H1313V335.7H1319V334.1H1324V335.7H1327V335.3H1329V337.0ZM1345 337.0V334.1H1348V335.7H1353V337.0ZM1365 337.0V335.7H1392V334.1H1397V334.9H1401V337.0ZM1410 337.0V335.3H1413V337.0ZM1429 337.0V334.1H1431V335.7H1437V334.9H1439V337.0ZM1442 337.0V335.7H1451V335.3H1455V335.7H1458V334.9H1462V335.7H1468V334.1H1470V337.0ZM1472 337.0V335.3H1475V335.7H1487V337.0ZM1488.5 337.0V335.7H1494.5V337.0ZM1501.5 337.0V335.7H1506.5V337.0ZM1511.5 337.0V335.3H1517.5V334.9H1522.5V335.7H1523.5V337.0ZM1535.5 337.0V334.9H1539.5V335.7H1549.5V334.1H1550.5V337.0ZM1552.5 337.0V334.1H1555.5V335.7H1557.5V337.0ZM1573.5 337.0V335.7H1585V334.5H1590V332.0H1594V323.0H1597.5V337.0ZM1607.5 337.0V335.7H1615.5V337.0ZM1618.5 337.0V335.7H1623.5V334.1H1628.5V335.7H1630.5V337.0ZM1652.5 337.0V335.7H1660.5V337.0ZM1672.5 337.0V334.9H1676.5V334.1H1682.5V337.0ZM1694.5 337.0V335.7H1696.5V335.3H1698.5V335.7H1700.5V337.0ZM1703.5 337.0V334.1H1707.5V337.0ZM1710.5 337.0V335.7H1715.5V337.0ZM1720.5 337.0V334.9H1728.5V335.3H1733.5V335.7H1749.5V335.3H1756.5V337.0ZM1761.5 337.0V335.7H1764.5V337.0ZM1780.5 337.0V334.1H1782.5V335.7H1793.5V334.9H1799.5V335.7H1801.5V334.9H1804.5V335.7H1808.5V337.0ZM1811.5 337.0V335.3H1819.5V337.0ZM1826.5 337.0V335.7H1829.5V337.0ZM1832.5 337.0V334.9H1838.5V334.1H1844.5V337.0ZM1866.5 337.0V335.7H1876.5V337.0ZM1906.5 337.0V335.7H1928.5V335.3H1930.5V335.7H1934.5V337.0ZM1943.5 337.0V335.7H1948.5V337.0ZM1970.5 337.0V334.9H1974.5V335.7H1975V332.0H1985V335.3H1985.5V335.7H1998.5V337.0ZM2000 337.0V334.1H2004V335.7H2005V331.0H2025V337.0ZM2037 337.0V334.9H2045V335.7H2049V337.0ZM2061 337.0V335.7H2072V334.9H2073V337.0ZM2085 337.0V335.7H2089V337.0ZM2105 337.0V335.7H2141V337.0ZM2153 337.0V334.1H2155V335.7H2156V337.0ZM2161 337.0V335.7H2165V337.0ZM2170 337.0V335.7H2173V335.3H2179V334.9H2180V334.3H2190V333.5H2193V332.2H2196V333.9H2197.5V334.3H2201.5V333.3H2205V328.5H2206.5V325.3H2208V318.4H2211.75V322.2H2213V320.2H2216V321.3H2217.25V311.3H2219.75V315.5H2221V322.6H2222.75V329.3H2224V331.4H2225.75V332.2H2232V337.0ZM2240.25 337.0V299.3H2244V325.1H2245V330.1H2249V334.3H2251.25V332.2H2253.25V325.3H2257V337.0ZM2258 337.0V322.2H2261.75V327.2H2263.5V330.1H2265V331.4H2268.75V337.0ZM2271.25 337.0V315.2H2274.25V302.3H2278V322.2H2279.25V307.3H2281.5V294.5H2289V301.2H2289.75V307.5H2292V337.0ZM2295.25 337.0V333.5H2296.5V330.1H2300.75V332.2H2303.25V333.5H2307.5V332.2H2309V328.5H2310.25V324.4H2312.5V314.4H2315.25V306.3H2317.75V323.4H2320V337.0ZM2323.25 337.0V332.2H2329V331.0H2331.25V328.5H2334V337.0ZM2342 337.0V334.5H2360V337.0ZM2370 337.0V335.7H2373V335.3H2377V335.7H2382V333.5H2392V333.0H2400V335.7H2407V334.1H2414V335.3H2417V333.0H2423V337.0ZM2428 337.0V335.7H2430V335.3H2434V335.7H2436V334.1H2438V337.0ZM2468 337.0V335.7H2478V337.0ZM2494 337.0V335.3H2498V337.0ZM2500 337.0V335.7H2515V337.0ZM2531 337.0V334.1H2533V335.7H2541V335.3H2546V337.0ZM2562 337.0V335.3H2567V334.1H2570V337.0ZM2572 337.0V335.7H2577V337.0ZM2579 337.0V334.9H2586V334.1H2589V337.0ZM2596 337.0V335.7H2611V337.0ZM2614 337.0V334.9H2616V335.7H2618V335.3H2622V335.7H2625V334.1H2628V335.7H2634V337.0ZM2635.5 337.0V335.7H2641.5V337.0ZM2657 337.0V332.0H2662V337.0ZM2663.5 337.0V334.9H2668.5V335.7H2671.5V335.3H2673.5V337.0ZM2676.5 337.0V335.3H2678.5V335.7H2684.5V334.9H2687.5V335.7H2693.5V335.3H2696.5V337.0ZM2698 337.0V335.7H2707V334.1H2711V334.9H2714V335.7H2718V337.0ZM2725 337.0V335.7H2735V335.3H2737V335.7H2742V335.3H2744V334.9H2748V335.7H2755V335.3H2758V335.7H2761V337.0ZM2763 337.0V335.7H2771V337.0ZM2793 337.0V334.1H2799V335.7H2803V337.0ZM2806 337.0V334.9H2811V334.1H2816V337.0ZM2821 337.0V335.7H2841V337.0ZM2863 337.0V335.7H2869V334.9H2873V335.7H2878V335.3H2882V335.7H2883V337.0ZM2892 337.0V335.7H2899V334.9H2902V335.7H2910V334.1H2916V335.7H2924V334.1H2928V337.0ZM2933 337.0V335.7H2945V335.3H2953V334.1H2961V337.0ZM2966 337.0V335.7H2972V337.0ZM2984 337.0V335.7H2990V337.0ZM2991.5 337.0V333.7H2994V329.3H3000V332.4H3004.25V335.7H3015V337.0ZM3017 337.0V329.9H3019.5V337.0ZM3028 337.0V315.8H3030.5V332.4H3033.5V335.7H3036V333.7H3040V331.1H3045V333.2H3051V337.0ZM3052.5 337.0V335.7H3060.5V334.9H3065.5V335.7H3067.5V337.0ZM3074.5 337.0V334.1H3080.5V337.0ZM3094.25 337.0V332.4H3098.5V327.3H3102V323.5H3105V322.7H3108.75V337.0ZM3110.5 337.0V334.9H3112V331.9H3119.75V335.7H3120.5V337.0ZM3136.5 337.0V335.7H3145.5V334.1H3146.5V337.0ZM3155.5 337.0V334.9H3158.5V335.7H3159.5V337.0ZM3164.5 337.0V335.7H3168.5V337.0ZM3173.5 337.0V334.1H3179.5V335.7H3182.5V334.1H3188.5V337.0ZM3193.5 337.0V335.7H3201.5V334.1H3203.5V337.0ZM3208.5 337.0V335.7H3220.5V334.1H3223.5V337.0ZM3253.5 337.0V335.7H3255.5V335.3H3261.5V335.7H3276.75V327.0H3285V334.9H3289V335.7H3298V337.0ZM3307 337.0V334.9H3315V335.7H3331V334.9H3334V334.1H3343V337.0ZM3345 337.0V335.7H3351V329.0H3357V335.7H3363V334.1H3367V335.7H3381V337.0ZM3383 337.0V335.7H3395V337.0ZM3400 337.0V335.7H3408V335.3H3410V335.7H3415V337.0ZM3418 337.0V335.7H3422V334.1H3430V337.0ZM3439 337.0V335.7H3441V334.1H3443V337.0ZM3455 337.0V335.7H3469V334.9H3470V337.0ZM3482 337.0V334.1H3485V335.7H3486V337.0ZM3489 337.0V335.7H3491V334.9H3494V337.0ZM3497 337.0V335.7H3500V337.0ZM3503 337.0V335.7H3527V334.9H3529V335.7H3531V337.0ZM3547 337.0V335.7H3575V334.1H3577V335.3H3583V337.0ZM3586 337.0V334.1H3588V335.7H3590V335.3H3593V334.9H3597V334.1H3598V337.0Z"/>
<path fill="#c4625a" d="M2 382.1V381.1H12V382.1ZM15 382.1V381.1H27V382.1ZM28.5 382.1V381.1H32.5V382.1ZM54.5 382.1V381.1H57.5V380.8H58.5V382.1ZM67.5 382.1V381.1H71.5V380.8H76.5V380.5H81.5V381.1H95.5V382.1ZM97 382.1V381.1H117V382.1ZM122 382.1V381.1H125V382.1ZM127 382.1V380.8H135V379.9H139V382.1ZM151 382.1V380.5H155V382.1ZM160 382.1V379.9H164V382.1ZM186 382.1V381.1H197V380.8H198V382.1ZM199.5 382.1V381.1H217.5V379.9H219.5V380.8H224.5V381.1H227.5V382.1ZM229.5 382.1V381.1H235.5V382.1ZM265.5 382.1V381.1H268.5V382.1ZM298.5 382.1V381.1H304.5V380.8H308.5V379.9H313.5V381.1H326.5V382.1ZM338.5 382.1V381.1H341.5V382.1ZM346.5 382.1V381.1H349.5V382.1ZM371.5 382.1V381.1H373.5V380.5H375.5V380.8H376.5V382.1ZM383.5 382.1V381.1H395.5V382.1ZM398.5 382.1V381.1H400.5V379.9H403.5V381.1H410.5V379.9H415.5V380.5H418.5V382.1ZM420.5 382.1V381.1H433.5V380.5H441.5V381.1H448.5V382.1ZM455.5 382.1V381.1H461.5V380.8H465.5V381.1H475.5V382.1ZM478.5 382.1V381.1H482.5V382.1ZM512.5 382.1V381.1H540.5V382.1ZM545.5 382.1V380.5H555.5V382.1ZM557.5 382.1V380.5H568.5V381.1H577.5V382.1ZM579.5 382.1V380.5H583.5V381.1H605.5V380.8H607.5V382.1ZM609 382.1V379.9H611V380.5H616V381.1H635V380.5H637V382.1ZM642 382.1V381.1H657V382.1ZM679 382.1V379.9H681V381.1H691V382.1ZM700 382.1V380.5H705V379.9H710V381.1H714V380.5H715V382.1ZM745 382.1V381.1H749V379.9H757V381.1H760V382.1ZM769 382.1V381.1H777V382.1ZM782 382.1V381.1H784V380.5H787V382.1ZM792 382.1V380.8H796V382.1ZM826 382.1V380.5H831V379.9H834V382.1ZM856 382.1V381.1H865V380.8H869V380.5H871V382.1ZM880 382.1V381.1H885V380.8H893V381.1H895V382.1ZM902 382.1V381.1H916V380.5H928V381.1H930V382.1ZM932 382.1V380.8H936V382.1ZM958 382.1V381.1H970V382.1ZM973 382.1V380.8H976V381.1H983V382.1ZM986 382.1V381.1H1001V382.1ZM1013 382.1V380.5H1015V381.1H1016V382.1ZM1018 382.1V380.5H1022V381.1H1038V382.1ZM1055 382.1V379.6H1068V380.5H1075V378.1H1085V382.1ZM1087 382.1V381.1H1097V382.1ZM1127 382.1V379.9H1133V381.1H1137V380.5H1142V382.1ZM1172 382.1V380.8H1175V380.5H1180V381.1H1187V382.1ZM1189 382.1V381.1H1193V382.1ZM1200 382.1V381.1H1213V380.8H1215V382.1ZM1217 382.1V381.1H1220V382.1ZM1227 382.1V381.1H1241V380.8H1249V379.9H1252V380.8H1255V379.1H1262V381.1H1263V382.1ZM1287 382.1V376.1H1292V382.1ZM1293 382.1V381.1H1301V379.9H1305V381.1H1308V379.9H1314V381.1H1316V379.9H1320V381.1H1329V382.1ZM1345 382.1V381.1H1351V380.5H1353V382.1ZM1365 382.1V381.1H1376V380.5H1382V381.1H1390V380.8H1398V381.1H1401V382.1ZM1410 382.1V379.9H1413V382.1ZM1429 382.1V381.1H1435V379.9H1437V381.1H1439V382.1ZM1442 382.1V381.1H1449V380.5H1452V381.1H1465V380.8H1470V382.1ZM1472 382.1V381.1H1480V380.8H1486V379.9H1487V382.1ZM1488.5 382.1V379.9H1494.5V382.1ZM1501.5 382.1V380.5H1503.5V381.1H1506.5V382.1ZM1511.5 382.1V379.9H1515.5V381.1H1519.5V380.8H1521.5V381.1H1523.5V382.1ZM1535.5 382.1V381.1H1544.5V380.5H1550.5V382.1ZM1552.5 382.1V381.1H1557.5V382.1ZM1573.5 382.1V381.1H1585.5V382.1ZM1607.5 382.1V379.9H1615.5V382.1ZM1618.5 382.1V381.1H1622.5V380.5H1626.5V381.1H1630.5V382.1ZM1652.5 382.1V381.1H1660.5V382.1ZM1672.5 382.1V380.8H1680.5V381.1H1682.5V382.1ZM1694.5 382.1V381.1H1700.5V382.1ZM1703.5 382.1V381.1H1707.5V382.1ZM1710.5 382.1V380.5H1715.5V382.1ZM1720.5 382.1V379.9H1736.5V381.1H1756.5V382.1ZM1761.5 382.1V381.1H1764.5V382.1ZM1780.5 382.1V381.1H1783V378.1H1787V379.9H1788.5V381.1H1808.5V382.1ZM1811.5 382.1V381.1H1816V377.6H1821V382.1ZM1826.5 382.1V380.5H1829.5V382.1ZM1832.5 382.1V381.1H1843.5V379.9H1844.5V382.1ZM1866.5 382.1V380.8H1868.5V381.1H1876.5V382.1ZM1906.5 382.1V381.1H1911.5V380.8H1913.5V381.1H1927.5V380.5H1934.5V382.1ZM1943.5 382.1V381.1H1948.5V382.1ZM1970.5 382.1V379.9H1973.5V381.1H1997V376.1H2002V381.1H2003V380.8H2008V381.1H2014V380.8H2015V382.1ZM2037 382.1V381.1H2042V379.9H2045V381.1H2049V382.1ZM2061 382.1V379.9H2063V381.1H2072V380.8H2073V382.1ZM2085 382.1V381.1H2088V380.5H2089V382.1ZM2105 382.1V381.1H2111V380.8H2122V381.1H2130V380.8H2134V381.1H2141V382.1ZM2153 382.1V381.1H2156V382.1ZM2161 382.1V381.1H2165V382.1ZM2170 382.1V381.1H2180V381.3H2203.5V380.1H2205V378.1H2207V375.1H2208.5V369.8H2211V361.8H2216V366.9H2218V372.3H2221V376.5H2228.25V374.4H2229.5V368.5H2232V382.1ZM2240.25 382.1V361.7H2244V369.5H2247.5V371.7H2249V380.3H2253.25V376.5H2257V382.1ZM2258 382.1V363.5H2261.75V375.2H2263.5V377.3H2265V378.6H2268.75V382.1ZM2271.25 382.1V379.4H2274.25V376.5H2277.25V372.5H2279.25V352.6H2281.5V339.6H2288V343.4H2289V350.5H2292V382.1ZM2295.25 382.1V376.5H2296.5V372.5H2298V370.4H2302V375.2H2303.25V379.4H2307.5V380.3H2310.25V378.6H2313.25V376.5H2315.25V375.2H2317.75V378.6H2320V382.1ZM2323.25 382.1V378.6H2326.5V380.3H2330.75V378.6H2334V382.1ZM2370 382.1V381.1H2378V379.9H2382V382.1ZM2385 382.1V380.5H2389V381.1H2421V382.1ZM2428 382.1V381.1H2432V379.9H2434V381.1H2438V382.1ZM2468 382.1V381.1H2475V380.5H2478V382.1ZM2494 382.1V381.1H2498V382.1ZM2500 382.1V381.1H2515V382.1ZM2531 382.1V381.1H2546V382.1ZM2562 382.1V381.1H2570V382.1ZM2572 382.1V381.1H2577V382.1ZM2579 382.1V380.8H2584V381.1H2589V382.1ZM2596 382.1V379.9H2602V381.1H2607V380.5H2611V382.1ZM2614 382.1V381.1H2619V379.9H2627V380.8H2634V382.1ZM2635.5 382.1V381.1H2639.5V380.5H2641.5V382.1ZM2653 382.1V377.1H2654.25V369.8H2658V360.9H2662V382.1ZM2663.5 382.1V381.1H2672.5V380.8H2673.5V382.1ZM2676.5 382.1V381.1H2678.5V380.5H2681.5V381.1H2683.5V379.9H2685.5V381.1H2694.5V379.9H2696.5V382.1ZM2698 382.1V381.1H2704V379.1H2706.5V373.1H2709V370.6H2713V374.4H2714.75V381.1H2716V380.5H2718V382.1ZM2725 382.1V381.1H2726.5V378.3H2730V380.1H2734.25V381.1H2738V380.8H2743V380.5H2748V381.1H2761V382.1ZM2763 382.1V381.1H2765V380.8H2770V381.1H2771V382.1ZM2793 382.1V381.1H2799V379.9H2801V381.1H2803V382.1ZM2806 382.1V381.1H2816V382.1ZM2821 382.1V380.5H2826V381.1H2834V380.5H2840V381.1H2841V382.1ZM2863 382.1V380.8H2871V381.1H2883V382.1ZM2892 382.1V380.5H2903V381.1H2918V380.5H2923V379.9H2927V381.1H2928V382.1ZM2933 382.1V380.8H2940V381.1H2943V379.9H2948V381.1H2954V379.9H2958V381.1H2961V382.1ZM2966 382.1V381.1H2972V382.1ZM2984 382.1V381.1H2990V382.1ZM2995 382.1V381.1H3015V382.1ZM3031 382.1V381.1H3041V382.1ZM3042.5 382.1V380.5H3045.5V382.1ZM3052.5 382.1V381.1H3062.5V380.5H3067.5V382.1ZM3074.5 382.1V381.1H3080.5V382.1ZM3110.5 382.1V381.1H3120.5V382.1ZM3136.5 382.1V381.1H3146.5V382.1ZM3155.5 382.1V381.1H3159.5V382.1ZM3164.5 382.1V380.5H3167.5V380.8H3168.5V382.1ZM3173.5 382.1V381.1H3175.5V380.8H3180.5V381.1H3188.5V382.1ZM3193.5 382.1V379.9H3197.5V380.5H3203.5V382.1ZM3208.5 382.1V381.1H3223V378.1H3232V382.1ZM3253.5 382.1V381.1H3259.5V380.5H3263.5V380.8H3269.5V380.5H3271.5V381.1H3275.5V380.8H3279.5V381.1H3281.5V382.1ZM3283 382.1V379.9H3289V380.8H3297V380.5H3298V382.1ZM3307 382.1V381.1H3343V382.1ZM3345 382.1V381.1H3353V380.8H3356V379.9H3368V381.1H3381V382.1ZM3383 382.1V381.1H3395V382.1ZM3400 382.1V379.9H3402V381.1H3406V380.5H3415V382.1ZM3418 382.1V381.1H3429V379.9H3430V382.1ZM3439 382.1V380.8H3443V382.1ZM3455 382.1V380.5H3459V381.1H3470V382.1ZM3482 382.1V381.1H3485V379.9H3486V382.1ZM3489 382.1V380.5H3492V379.9H3494V382.1ZM3497 382.1V379.9H3500V382.1ZM3503 382.1V381.1H3529V380.5H3531V382.1ZM3534 382.1V373.1H3540.5V382.1ZM3547 382.1V381.1H3550V380.8H3555V381.1H3560V380.5H3562V381.1H3564V380.8H3568V381.1H3582V378.1H3591V381.1H3598V382.1Z"/>
<path fill="#c09030" d="M2 427.2V424.6H10V423.7H12V427.2ZM15 427.2V424.6H21V425.6H27V427.2ZM28.5 427.2V424.6H32.5V427.2ZM54.5 427.2V425.6H58.5V427.2ZM67.5 427.2V425.6H75.5V424.6H87.5V425.6H95.5V427.2ZM97 427.2V425.6H100V424.6H104V425.6H116V425.1H117V427.2ZM122 427.2V425.6H125V427.2ZM127 427.2V425.6H137V423.7H139V427.2ZM151 427.2V425.6H155V427.2ZM160 427.2V424.6H164V427.2ZM186 427.2V425.6H198V427.2ZM199.5 427.2V425.6H205.5V423.7H211.5V425.6H221.5V424.6H227.5V427.2ZM229.5 427.2V425.1H235.5V427.2ZM265.5 427.2V425.1H268.5V427.2ZM298.5 427.2V423.7H301.5V425.1H313.5V425.6H326.5V427.2ZM338.5 427.2V423.7H341.5V427.2ZM346.5 427.2V425.6H348.5V424.6H349.5V427.2ZM371.5 427.2V423.7H376.5V427.2ZM383.5 427.2V425.6H395.5V427.2ZM398.5 427.2V425.6H401.5V425.1H409.5V425.6H418.5V427.2ZM420.5 427.2V423.7H422.5V425.6H445.5V423.7H448.5V427.2ZM455.5 427.2V425.6H475.5V427.2ZM478.5 427.2V425.6H482.5V427.2ZM512.5 427.2V425.6H514.5V423.7H519.5V425.6H525.5V423.7H529.5V425.6H531.5V423.7H538.5V425.6H540.5V427.2ZM545.5 427.2V425.6H549.5V424.6H552.5V425.6H555.5V427.2ZM557.5 427.2V425.6H577.5V427.2ZM579.5 427.2V425.6H585.5V423.7H588.5V425.1H593.5V425.6H607.5V427.2ZM609 427.2V425.6H617V423.7H619V424.6H632V425.6H637V427.2ZM642 427.2V424.6H645V425.6H655V423.7H657V427.2ZM679 427.2V424.6H685V425.6H691V427.2ZM700 427.2V425.6H715V427.2ZM745 427.2V425.1H751V425.6H757V424.6H760V427.2ZM769 427.2V425.6H777V427.2ZM782 427.2V425.1H784V423.7H787V427.2ZM792 427.2V424.6H796V427.2ZM826 427.2V424.6H829V425.6H834V427.2ZM856 427.2V423.7H862V425.6H871V427.2ZM880 427.2V425.6H886V423.7H891V425.6H895V427.2ZM902 427.2V425.6H917V424.6H919V425.6H930V427.2ZM932 427.2V425.6H936V427.2ZM958 427.2V424.6H969V425.6H970V427.2ZM973 427.2V425.6H978V425.1H981V424.6H983V427.2ZM986 427.2V423.7H994V425.6H1001V427.2ZM1013 427.2V425.6H1015V424.6H1016V427.2ZM1018 427.2V425.1H1021V425.6H1038V427.2ZM1068 427.2V425.6H1076V425.1H1078V427.2ZM1087 427.2V424.6H1091V425.6H1094V423.7H1097V427.2ZM1127 427.2V425.6H1135V424.6H1142V427.2ZM1172 427.2V425.6H1186V424.6H1187V427.2ZM1189 427.2V425.6H1193V427.2ZM1200 427.2V425.6H1202V415.2H1207V423.7H1209V425.6H1215V427.2ZM1217 427.2V425.6H1220V427.2ZM1227 427.2V425.6H1244V423.7H1252V425.6H1263V427.2ZM1293 427.2V423.7H1296V425.6H1313V424.6H1318V425.6H1329V427.2ZM1345 427.2V425.6H1349V423.7H1353V427.2ZM1365 427.2V423.7H1371V424.6H1373V425.6H1395V425.1H1400V425.6H1401V427.2ZM1410 427.2V423.7H1413V427.2ZM1429 427.2V425.6H1434V424.6H1439V427.2ZM1442 427.2V425.6H1450V425.1H1453V423.7H1455V425.1H1458V425.6H1470V427.2ZM1472 427.2V425.6H1487V427.2ZM1488.5 427.2V425.1H1494.5V427.2ZM1501.5 427.2V423.7H1506.5V427.2ZM1511.5 427.2V424.6H1514.5V425.6H1523.5V427.2ZM1535.5 427.2V425.6H1541.5V423.7H1545.5V425.1H1550.5V427.2ZM1552.5 427.2V425.6H1557.5V427.2ZM1573.5 427.2V425.6H1581.5V423.7H1585.5V427.2ZM1607.5 427.2V425.6H1615.5V427.2ZM1618.5 427.2V425.6H1626.5V425.1H1629.5V425.6H1630.5V427.2ZM1652.5 427.2V425.6H1660.5V427.2ZM1672.5 427.2V424.6H1675.5V425.6H1682.5V427.2ZM1694.5 427.2V425.6H1699.5V425.1H1700.5V427.2ZM1703.5 427.2V425.6H1707.5V427.2ZM1710.5 427.2V425.6H1712.5V425.1H1715.5V427.2ZM1720.5 427.2V423.7H1723.5V425.6H1729.5V424.6H1731.5V425.1H1739.5V425.6H1753.5V423.7H1756.5V427.2ZM1761.5 427.2V425.6H1764.5V427.2ZM1780.5 427.2V425.1H1790.5V425.6H1802.5V423.7H1807.5V424.6H1808.5V427.2ZM1811.5 427.2V425.6H1816V424.2H1821V427.2ZM1826.5 427.2V425.6H1829.5V427.2ZM1832.5 427.2V423.7H1838.5V425.6H1843.5V423.7H1844.5V427.2ZM1866.5 427.2V425.1H1870.5V425.6H1876.5V427.2ZM1906.5 427.2V425.6H1922.5V425.1H1927.5V425.6H1934.5V427.2ZM1943.5 427.2V424.6H1945.5V425.1H1948.5V427.2ZM1970.5 427.2V425.6H1977.5V424.6H1982V418.2H1987V424.6H1989.5V423.7H1993.5V425.6H1998.5V427.2ZM2000 427.2V425.6H2006V423.7H2012V425.6H2015V427.2ZM2037 427.2V425.6H2047V425.1H2049V427.2ZM2061 427.2V423.7H2069V425.6H2073V427.2ZM2085 427.2V425.6H2089V427.2ZM2105 427.2V425.6H2126V418.2H2131V425.1H2134V423.7H2137V425.6H2141V427.2ZM2153 427.2V425.6H2156V427.2ZM2161 427.2V425.6H2165V427.2ZM2170 427.2V424.6H2178V425.6H2180V425.8H2188.5V424.7H2191.75V425.6H2201V426.2H2203V425.4H2206V422.4H2208V419.5H2211V413.6H2212.25V407.6H2216V412.0H2218V415.7H2221V420.3H2224V417.8H2226.5V414.9H2229.5V400.6H2232V427.2ZM2240.25 427.2V405.7H2244V418.7H2248.75V425.4H2251.25V424.5H2253.25V423.5H2257V427.2ZM2258 427.2V416.6H2261.75V419.5H2265V416.6H2268.75V427.2ZM2271.25 427.2V418.7H2274.25V409.4H2275.5V407.8H2279.25V384.7H2289V388.5H2289.75V393.5H2292V427.2ZM2295.25 427.2V409.4H2296.5V398.5H2299V384.7H2302V389.3H2303.25V399.8H2304.75V407.8H2307V416.6H2309V414.6H2312.5V412.4H2315.25V408.6H2317.75V416.6H2320V427.2ZM2323.25 427.2V419.5H2326.5V422.4H2330.75V420.3H2334V427.2ZM2342 427.2V426.6H2345V427.2ZM2370 427.2V425.6H2382V427.2ZM2385 427.2V424.6H2390V425.6H2398V424.6H2401V425.6H2407V424.6H2412V423.7H2420V425.6H2421V427.2ZM2428 427.2V425.6H2438V427.2ZM2468 427.2V425.1H2473V425.6H2478V427.2ZM2494 427.2V424.6H2498V427.2ZM2500 427.2V423.7H2503V425.6H2515V427.2ZM2531 427.2V425.6H2546V427.2ZM2562 427.2V425.6H2570V427.2ZM2572 427.2V425.6H2577V427.2ZM2579 427.2V425.6H2589V427.2ZM2596 427.2V425.1H2604V425.6H2611V427.2ZM2614 427.2V425.6H2634V427.2ZM2635.5 427.2V425.6H2641.5V427.2ZM2650.5 427.2V424.7H2654.25V420.8H2658V418.3H2662V427.2ZM2663.5 427.2V425.6H2673.5V427.2ZM2676.5 427.2V425.6H2688.5V424.6H2696.5V427.2ZM2698 427.2V425.6H2704V424.2H2708V422.2H2715.5V423.7H2717V425.6H2718V427.2ZM2725 427.2V425.6H2761V427.2ZM2763 427.2V425.6H2771V427.2ZM2793 427.2V425.6H2803V427.2ZM2806 427.2V425.6H2816V427.2ZM2821 427.2V425.6H2823V425.1H2832V425.6H2841V427.2ZM2863 427.2V425.6H2882V424.6H2883V427.2ZM2892 427.2V424.6H2900V425.6H2927V425.1H2928V427.2ZM2933 427.2V425.6H2950V424.6H2961V427.2ZM2966 427.2V425.6H2972V427.2ZM2984 427.2V425.6H2988V425.1H2990V427.2ZM2995 427.2V425.6H3001V424.6H3005V425.6H3012V425.1H3015V427.2ZM3031 427.2V424.6H3036V425.6H3041V427.2ZM3042.5 427.2V425.1H3045.5V427.2ZM3052.5 427.2V425.6H3057.5V425.1H3065.5V425.6H3067.5V427.2ZM3074.5 427.2V425.6H3080.5V427.2ZM3110.5 427.2V425.6H3113.5V423.7H3119.5V425.6H3120.5V427.2ZM3132.5 427.2V421.2H3136V418.2H3140.75V424.6H3144.5V425.6H3146.5V427.2ZM3155.5 427.2V425.1H3159.5V427.2ZM3164.5 427.2V425.6H3168.5V427.2ZM3173.5 427.2V425.6H3187.5V424.6H3188.5V427.2ZM3193.5 427.2V425.6H3203.5V427.2ZM3208.5 427.2V425.6H3223.5V427.2ZM3253.5 427.2V425.6H3265.5V424.6H3267.5V425.6H3271.5V423.7H3277.5V425.6H3281.5V427.2ZM3283 427.2V423.7H3286V425.1H3291V425.6H3294V424.6H3298V427.2ZM3307 427.2V424.6H3309V425.6H3325V425.1H3329V425.6H3340V425.1H3342V425.6H3343V427.2ZM3345 427.2V425.1H3349V423.7H3352V425.6H3381V427.2ZM3383 427.2V425.6H3395V427.2ZM3400 427.2V425.1H3402V425.6H3406V423.7H3412V425.6H3415V427.2ZM3418 427.2V425.1H3424V425.6H3430V427.2ZM3439 427.2V425.6H3443V427.2ZM3455 427.2V425.6H3457V425.1H3459V425.6H3462V423.7H3464V425.6H3470V427.2ZM3482 427.2V424.6H3484V423.7H3486V427.2ZM3489 427.2V425.6H3494V427.2ZM3497 427.2V424.6H3500V427.2ZM3503 427.2V425.6H3513V425.1H3516V424.6H3524V425.6H3531V427.2ZM3547 427.2V425.6H3566V425.1H3575V425.6H3583V427.2ZM3586 427.2V425.6H3598V427.2Z"/>
<path fill="#6b0a0a" d="M2 472.3V470.2H5V470.7H10V470.2H12V472.3ZM15 472.3V470.7H27V472.3ZM28.5 472.3V470.7H32.5V472.3ZM54.5 472.3V470.7H58.5V472.3ZM67.5 472.3V470.7H70.5V468.8H73.5V470.7H82.5V469.7H84.5V470.7H94.5V470.2H95.5V472.3ZM97 472.3V470.7H117V472.3ZM122 472.3V470.7H125V472.3ZM127 472.3V470.7H130V469.7H136V470.7H139V472.3ZM151 472.3V470.7H155V472.3ZM160 472.3V469.7H164V469.8H186V468.8H192V469.8H218.5V468.8H226.5V469.8H231.5V468.8H235.5V469.8H240V472.3ZM265.5 472.3V470.7H268.5V472.3ZM298.5 472.3V470.2H302.5V470.7H307.5V468.8H315.5V470.2H326.5V472.3ZM338.5 472.3V469.7H341.5V472.3ZM346.5 472.3V470.2H349.5V472.3ZM371.5 472.3V470.7H376.5V472.3ZM383.5 472.3V470.7H395.5V472.3ZM398.5 472.3V470.2H400.5V470.7H412.5V468.8H418.5V472.3ZM420.5 472.3V470.7H448.5V472.3ZM455.5 472.3V470.7H463.5V469.7H471.5V470.2H475.5V472.3ZM478.5 472.3V470.7H482.5V472.3ZM512.5 472.3V470.7H540.5V472.3ZM545.5 472.3V470.7H555.5V472.3ZM557.5 472.3V468.8H560.5V470.7H576.5V469.7H577.5V472.3ZM579.5 472.3V469.7H587.5V470.7H603.5V470.2H607.5V472.3ZM609 472.3V470.7H612V470.2H617V470.7H625V469.7H627V470.7H637V472.3ZM642 472.3V469.7H650V470.7H654V469.7H656V468.8H657V472.3ZM679 472.3V470.7H682V470.2H685V470.7H691V472.3ZM700 472.3V470.7H709V470.2H713V468.8H715V472.3ZM745 472.3V470.2H750V470.7H752V469.7H757V470.2H760V472.3ZM769 472.3V470.2H775V470.7H777V472.3ZM782 472.3V470.7H787V472.3ZM792 472.3V470.7H796V472.3ZM826 472.3V470.7H828V468.8H830V470.7H834V472.3ZM856 472.3V470.7H869V470.2H871V472.3ZM880 472.3V470.7H885V470.2H888V470.7H894V470.2H895V472.3ZM902 472.3V470.2H906V470.7H911V469.7H913V470.7H919V470.2H924V470.7H930V472.3ZM932 472.3V470.2H935V470.7H936V472.3ZM958 472.3V470.7H966V469.7H970V472.3ZM973 472.3V469.7H983V472.3ZM986 472.3V470.7H1001V472.3ZM1013 472.3V470.2H1016V472.3ZM1018 472.3V468.8H1026V470.7H1037V469.7H1038V472.3ZM1055 472.3V468.3H1068V470.7H1072V470.2H1075V467.3H1085V472.3ZM1087 472.3V469.7H1089V470.7H1097V472.3ZM1127 472.3V470.7H1136V470.2H1140V470.7H1142V472.3ZM1172 472.3V470.7H1187V472.3ZM1189 472.3V470.7H1193V472.3ZM1200 472.3V467.3H1207V470.7H1215V472.3ZM1217 472.3V470.7H1220V472.3ZM1227 472.3V470.7H1245V468.8H1251V470.7H1255V468.3H1262V470.2H1263V472.3ZM1290 472.3V468.3H1296V470.7H1304V469.7H1307V470.7H1318V470.2H1321V470.7H1327V470.2H1329V472.3ZM1345 472.3V470.2H1349V469.7H1353V472.3ZM1365 472.3V470.2H1372V470.7H1393V468.8H1396V470.7H1401V472.3ZM1410 472.3V470.7H1413V472.3ZM1429 472.3V470.7H1438V469.7H1439V472.3ZM1442 472.3V470.7H1448V469.7H1458V470.7H1466V468.8H1470V472.3ZM1472 472.3V470.2H1475V468.8H1479V470.7H1485V469.7H1487V472.3ZM1488.5 472.3V470.7H1494.5V472.3ZM1501.5 472.3V470.7H1505.5V469.7H1506.5V472.3ZM1511.5 472.3V469.7H1517.5V470.2H1519.5V470.7H1523.5V472.3ZM1535.5 472.3V470.7H1546.5V469.7H1549.5V468.8H1550.5V472.3ZM1552.5 472.3V469.7H1554.5V470.7H1557.5V472.3ZM1573.5 472.3V470.7H1577.5V470.2H1580.5V468.8H1585.5V472.3ZM1607.5 472.3V470.7H1615.5V472.3ZM1618.5 472.3V469.7H1623.5V470.7H1630.5V472.3ZM1652.5 472.3V470.7H1657.5V470.2H1660.5V472.3ZM1672.5 472.3V470.7H1679.5V468.8H1682.5V472.3ZM1693 472.3V467.3H1697V470.7H1698.5V470.2H1700.5V472.3ZM1703.5 472.3V470.7H1707.5V472.3ZM1710.5 472.3V470.7H1715.5V472.3ZM1720.5 472.3V469.7H1728.5V470.7H1737.5V468.8H1739.5V469.7H1744.5V470.7H1756.5V472.3ZM1761.5 472.3V468.8H1764.5V472.3ZM1780.5 472.3V470.2H1782V466.8H1787V470.7H1790.5V468.8H1798.5V470.2H1801.5V470.7H1806.5V470.2H1808.5V472.3ZM1811.5 472.3V470.7H1816V466.3H1821V472.3ZM1826.5 472.3V470.7H1829.5V472.3ZM1832.5 472.3V468.8H1837.5V470.7H1842.5V469.7H1844.5V472.3ZM1866.5 472.3V470.7H1871.5V469.7H1874.5V468.8H1876.5V472.3ZM1906.5 472.3V470.7H1914.5V468.8H1919.5V470.7H1924.5V468.8H1929.5V470.7H1934.5V472.3ZM1943.5 472.3V470.7H1948.5V472.3ZM1970.5 472.3V470.7H1976.5V468.8H1982.5V470.7H1998.5V472.3ZM2000 472.3V470.7H2011V470.2H2015V472.3ZM2037 472.3V470.7H2040V469.3H2047V470.7H2049V472.3ZM2061 472.3V470.7H2073V472.3ZM2085 472.3V470.7H2089V472.3ZM2105 472.3V470.7H2127V469.7H2128V467.3H2133V470.7H2135V469.7H2141V472.3ZM2153 472.3V470.7H2155V469.7H2156V472.3ZM2161 472.3V470.7H2165V472.3ZM2170 472.3V470.7H2180V470.8H2187V471.7H2192V470.8H2197V471.7H2201V470.4H2205.75V469.6H2208.25V466.6H2211.25V459.7H2216V464.4H2217.25V468.7H2220.75V469.6H2228V466.6H2229.25V461.9H2231.75V472.3ZM2240.5 472.3V456.7H2243.75V463.6H2248.5V470.4H2253.25V468.7H2256.75V472.3ZM2258 472.3V463.6H2261.75V469.1H2263V469.6H2268.5V472.3ZM2271.25 472.3V469.6H2274.25V468.7H2277.25V465.7H2279.5V448.6H2281V429.8H2288V443.4H2289.25V450.7H2291.75V472.3ZM2295.25 472.3V469.6H2297.25V468.7H2302.5V470.8H2310.25V469.6H2313.5V465.7H2318V467.4H2320V472.3ZM2323 472.3V468.7H2327V470.4H2329V469.6H2331.25V467.7H2333.75V472.3ZM2370 472.3V470.7H2374V470.2H2380V470.7H2382V472.3ZM2385 472.3V470.7H2388V468.8H2393V470.7H2415V470.2H2420V470.7H2421V472.3ZM2428 472.3V469.7H2430V470.7H2437V470.2H2438V472.3ZM2468 472.3V470.7H2473V470.2H2477V470.7H2478V472.3ZM2494 472.3V468.8H2498V472.3ZM2500 472.3V469.7H2504V470.7H2515V472.3ZM2531 472.3V470.7H2536V470.2H2540V470.7H2545V469.7H2546V472.3ZM2562 472.3V470.7H2570V472.3ZM2572 472.3V470.7H2577V472.3ZM2579 472.3V470.7H2589V472.3ZM2596 472.3V470.7H2604V468.8H2607V470.7H2611V472.3ZM2614 472.3V470.2H2624V470.7H2627V468.8H2631V470.7H2634V472.3ZM2635.5 472.3V470.2H2641.5V472.3ZM2650.5 472.3V470.5H2654.25V461.6H2658V452.4H2662V472.3ZM2663.5 472.3V468.8H2668.5V470.7H2673.5V472.3ZM2676.5 472.3V470.7H2687.5V469.7H2692.5V470.7H2696.5V472.3ZM2698 472.3V470.7H2704V462.6H2706.5V456.3H2709V454.4H2711.75V457.0H2714.75V470.7H2718V472.3ZM2725 472.3V470.7H2726.5V465.9H2729V463.4H2732V465.9H2734.75V470.7H2738V469.7H2744V468.8H2748V470.7H2761V472.3ZM2763 472.3V470.7H2771V472.3ZM2793 472.3V470.7H2797V470.2H2802V470.7H2803V472.3ZM2806 472.3V470.7H2811V468.8H2816V472.3ZM2821 472.3V470.7H2835V468.8H2838V470.7H2841V472.3ZM2863 472.3V470.7H2873V468.8H2879V470.7H2882V468.8H2883V472.3ZM2892 472.3V470.7H2897V470.2H2905V469.7H2908V470.7H2916V469.7H2924V470.2H2928V472.3ZM2933 472.3V470.7H2939V469.7H2947V470.7H2955V468.8H2961V472.3ZM2966 472.3V470.7H2972V472.3ZM2984 472.3V470.7H2989V468.8H2990V472.3ZM2995 472.3V470.7H3003V468.8H3008V469.7H3013V470.7H3015V472.3ZM3031 472.3V468.8H3036V470.7H3041V472.3ZM3042.5 472.3V470.7H3045.5V472.3ZM3052.5 472.3V470.7H3065.5V468.8H3067.5V472.3ZM3074.5 472.3V469.7H3080.5V472.3ZM3083.75 472.3V466.3H3088V472.3ZM3110.5 472.3V470.7H3118.5V470.2H3120.5V472.3ZM3136.5 472.3V469.7H3139.5V470.7H3144.5V469.7H3146.5V472.3ZM3155.5 472.3V470.7H3159.5V472.3ZM3164.5 472.3V470.7H3168.5V472.3ZM3173.5 472.3V470.7H3177.5V470.2H3183.5V470.7H3188.5V472.3ZM3193.5 472.3V470.7H3196.5V470.2H3202.5V470.7H3203.5V472.3ZM3208.5 472.3V470.7H3213.5V470.2H3221.5V470.7H3223.5V472.3ZM3253.5 472.3V470.7H3271.5V470.2H3276.5V469.7H3279.5V470.7H3281.5V472.3ZM3283 472.3V470.7H3298V472.3ZM3307 472.3V470.2H3310V468.8H3313V469.7H3315V468.8H3320V470.7H3323V468.8H3326V470.7H3342V468.8H3343V472.3ZM3345 472.3V470.7H3355V470.2H3358V470.7H3368V469.7H3375V470.7H3381V472.3ZM3383 472.3V470.7H3395V472.3ZM3400 472.3V470.7H3411V469.7H3415V472.3ZM3418 472.3V470.7H3430V472.3ZM3439 472.3V470.2H3443V472.3ZM3455 472.3V470.7H3459V469.7H3461V470.7H3470V472.3ZM3482 472.3V470.7H3486V472.3ZM3489 472.3V470.7H3494V472.3ZM3497 472.3V469.7H3500V472.3ZM3503 472.3V470.7H3521V470.2H3523V470.7H3531V472.3ZM3534 472.3V468.3H3540V472.3ZM3547 472.3V470.7H3551V470.2H3555V470.7H3561.5V465.3H3566V470.7H3572V469.7H3575V470.7H3583V472.3ZM3586 472.3V470.7H3594V470.2H3598V472.3Z"/>
<path fill="#84a4e0" d="M2 517.4V516.4H5V516.1H12V517.4ZM15 517.4V516.4H27V517.4ZM28.5 517.4V516.4H32.5V517.4ZM54.5 517.4V516.4H58.5V517.4ZM67.5 517.4V516.4H70.5V516.1H76.5V515.2H78.5V516.1H82.5V516.4H85.5V515.8H93.5V516.4H95.5V517.4ZM97 517.4V516.4H113V515.2H116V516.4H117V517.4ZM122 517.4V516.4H125V517.4ZM127 517.4V516.4H136V515.8H139V517.4ZM151 517.4V516.4H155V517.4ZM160 517.4V516.4H164V517.4ZM186 517.4V516.4H197V515.8H198V517.4ZM199.5 517.4V516.4H204.5V515.2H206.5V516.4H227.5V517.4ZM229.5 517.4V516.4H235.5V517.4ZM265.5 517.4V516.1H268.5V517.4ZM298.5 517.4V516.4H306.5V516.1H311.5V516.4H315.5V515.2H323.5V516.4H326.5V517.4ZM338.5 517.4V515.2H341.5V517.4ZM346.5 517.4V516.4H349.5V517.4ZM371.5 517.4V515.8H376.5V517.4ZM383.5 517.4V516.4H395.5V517.4ZM398.5 517.4V516.4H407.5V516.1H415.5V515.8H417.5V515.2H418.5V517.4ZM420.5 517.4V516.4H423.5V515.2H431.5V516.4H433.5V515.2H439.5V516.4H441.5V515.8H445.5V516.1H448.5V517.4ZM455.5 517.4V516.4H462.5V516.1H468.5V515.8H470.5V516.1H473.5V516.4H475.5V517.4ZM478.5 517.4V515.8H482.5V517.4ZM501 517.4V510.4H505V517.4ZM512.5 517.4V516.4H520.5V515.8H522.5V516.4H536.5V516.1H540.5V517.4ZM545.5 517.4V515.2H551.5V516.1H555.5V517.4ZM557.5 517.4V516.4H563.5V515.8H569.5V516.4H577.5V517.4ZM579.5 517.4V516.4H587.5V515.2H589.5V516.1H592.5V516.4H607.5V517.4ZM609 517.4V516.4H637V517.4ZM642 517.4V516.4H657V517.4ZM679 517.4V516.1H686V516.4H691V517.4ZM700 517.4V516.4H715V517.4ZM745 517.4V516.4H754V516.1H759V515.2H760V517.4ZM769 517.4V515.2H774V516.4H777V517.4ZM782 517.4V516.4H787V517.4ZM792 517.4V516.4H796V517.4ZM826 517.4V515.2H830V515.8H834V517.4ZM856 517.4V516.4H860V516.1H862V516.4H871V517.4ZM880 517.4V516.1H888V516.4H894V515.2H895V517.4ZM902 517.4V515.8H905V516.4H913V515.8H918V515.2H926V516.1H930V517.4ZM932 517.4V516.4H936V517.4ZM958 517.4V516.4H968V516.1H970V517.4ZM973 517.4V516.4H981V515.8H983V517.4ZM986 517.4V516.4H1001V517.4ZM1013 517.4V516.4H1016V517.4ZM1018 517.4V516.4H1036V516.1H1038V517.4ZM1068 517.4V516.4H1071V516.1H1074V516.4H1075V515.4H1085V517.4ZM1087 517.4V516.4H1097V517.4ZM1127 517.4V516.4H1142V517.4ZM1172 517.4V515.8H1176V516.4H1181V515.8H1187V517.4ZM1189 517.4V515.8H1193V517.4ZM1200 517.4V516.4H1203V516.1H1205V516.4H1215V517.4ZM1217 517.4V516.4H1220V517.4ZM1227 517.4V516.4H1240V516.1H1251V516.4H1263V517.4ZM1293 517.4V515.8H1297V516.4H1318V515.8H1324V516.4H1329V517.4ZM1345 517.4V515.8H1353V517.4ZM1365 517.4V516.4H1367V516.1H1372V516.4H1375V515.2H1378V515.8H1386V516.1H1389V516.4H1401V517.4ZM1410 517.4V516.4H1413V517.4ZM1429 517.4V516.4H1439V517.4ZM1442 517.4V515.8H1450V516.4H1470V517.4ZM1472 517.4V515.8H1476V516.4H1480V516.1H1487V517.4ZM1488.5 517.4V515.2H1494.5V517.4ZM1501.5 517.4V516.4H1506.5V517.4ZM1511.5 517.4V516.4H1523.5V517.4ZM1535.5 517.4V516.4H1537.5V515.2H1545.5V516.4H1550.5V517.4ZM1552.5 517.4V515.8H1557.5V517.4ZM1573.5 517.4V516.1H1578.5V516.4H1585.5V517.4ZM1607.5 517.4V516.4H1615.5V517.4ZM1618.5 517.4V516.4H1628.5V515.2H1630.5V517.4ZM1652.5 517.4V515.2H1660.5V517.4ZM1672.5 517.4V516.4H1678.5V516.1H1681.5V516.4H1682.5V517.4ZM1694.5 517.4V516.1H1698.5V516.4H1700.5V517.4ZM1703.5 517.4V515.2H1707.5V517.4ZM1710.5 517.4V516.4H1715.5V517.4ZM1720.5 517.4V516.4H1726.5V516.1H1730.5V516.4H1738.5V515.8H1743.5V516.4H1753.5V515.2H1756.5V517.4ZM1761.5 517.4V516.4H1764.5V517.4ZM1780.5 517.4V516.4H1786.5V516.1H1790.5V516.4H1808.5V517.4ZM1811.5 517.4V516.4H1819.5V517.4ZM1826.5 517.4V516.4H1829.5V517.4ZM1832.5 517.4V516.4H1834.5V515.2H1842.5V516.4H1844.5V517.4ZM1866.5 517.4V516.4H1868.5V516.1H1876.5V517.4ZM1906.5 517.4V516.4H1918.5V515.8H1924.5V516.4H1934.5V517.4ZM1943.5 517.4V516.4H1948.5V517.4ZM1970 517.4V512.9H1974V515.2H1976.25V515.1H1977.25V482.0H1981V515.8H1982.25V505.1H1983.25V497.1H1987V510.0H1988V516.4H1992V516.0H1994.5V515.8H1996.25V507.2H1998.25V491.1H2001V503.0H2002.75V516.4H2005V515.2H2005.25V514.1H2007V512.9H2009.75V515.2H2011.25V512.0H2015V507.0H2018.75V505.8H2021V495.1H2022.5V474.9H2025.5V517.4ZM2037 517.4V516.4H2045.25V515.1H2049V517.4ZM2059.25 517.4V512.0H2062.5V513.7H2065.25V512.0H2070V514.6H2072.75V512.9H2077V514.1H2078.75V517.4ZM2085 517.4V516.4H2089V517.4ZM2091 517.4V516.0H2095V512.3H2096V507.2H2098.75V517.4ZM2105 517.4V515.8H2113V516.4H2115V512.0H2118.25V510.0H2121.5V512.3H2124V513.7H2126.75V512.9H2132.75V516.4H2141V517.4ZM2153 517.4V516.1H2156V517.4ZM2161 517.4V516.1H2165V517.4ZM2170 517.4V515.8H2178V516.4H2203V515.4H2205V513.4H2207V509.4H2211V506.7H2214V509.4H2216V512.4H2218V514.0H2224.5V511.7H2232V517.4ZM2240 517.4V501.8H2244.75V511.8H2249V515.7H2253V514.8H2256.75V517.4ZM2258 517.4V494.7H2262V508.0H2263.5V505.7H2268.75V517.4ZM2271 517.4V515.7H2274V514.8H2279V506.7H2281V474.9H2288V497.7H2289V501.1H2292V517.4ZM2295 517.4V513.8H2296V504.8H2298V502.0H2300V502.8H2302V508.0H2303V513.8H2306.5V515.7H2310V513.8H2320V517.4ZM2323 517.4V514.8H2334V517.4ZM2370 517.4V516.4H2381V515.2H2382V517.4ZM2385 517.4V516.1H2387V516.4H2393V515.2H2398V516.4H2404V515.2H2408V516.4H2419V515.8H2421V517.4ZM2428 517.4V516.4H2434V516.1H2436V515.8H2438V517.4ZM2468 517.4V516.4H2471V515.8H2477V516.4H2478V517.4ZM2494 517.4V516.4H2498V517.4ZM2500 517.4V516.1H2508V515.8H2511V516.4H2515V517.4ZM2531 517.4V516.1H2536V516.4H2543V515.8H2546V517.4ZM2562 517.4V516.4H2568V515.8H2570V517.4ZM2572 517.4V516.1H2577V517.4ZM2579 517.4V516.4H2583V516.1H2588V516.4H2589V517.4ZM2596 517.4V516.4H2611V517.4ZM2614 517.4V516.4H2634V517.4ZM2635.5 517.4V515.8H2641.5V517.4ZM2653 517.4V510.4H2661.5V517.4ZM2663.5 517.4V516.4H2673.5V517.4ZM2676.5 517.4V516.4H2678.5V515.2H2686.5V515.8H2688.5V516.4H2692.5V516.1H2696.5V517.4ZM2698 517.4V515.2H2700V516.4H2706V516.1H2711V516.4H2716V516.1H2718V517.4ZM2725 517.4V515.8H2730V516.4H2734V516.1H2739V516.4H2750V515.8H2756V516.4H2761V517.4ZM2763 517.4V516.4H2771V517.4ZM2793 517.4V515.2H2798V516.4H2803V517.4ZM2806 517.4V516.4H2816V517.4ZM2821 517.4V515.8H2829V516.4H2837V515.2H2840V516.4H2841V517.4ZM2863 517.4V515.2H2866V516.4H2883V517.4ZM2892 517.4V516.4H2902V515.2H2905V516.4H2910V515.8H2915V516.4H2928V517.4ZM2933 517.4V516.4H2935V515.8H2943V516.4H2961V517.4ZM2966 517.4V515.2H2972V517.4ZM2984 517.4V516.4H2988V516.1H2990V517.4ZM2995 517.4V515.8H3004V516.4H3012V515.8H3015V517.4ZM3031 517.4V516.4H3036V515.2H3041V517.4ZM3042.5 517.4V516.4H3045.5V517.4ZM3052.5 517.4V516.4H3060.5V515.8H3065.5V516.4H3067.5V517.4ZM3074.5 517.4V516.4H3076.5V516.1H3080.5V517.4ZM3083.75 517.4V508.4H3088V517.4ZM3094.25 517.4V505.4H3098V500.4H3102V507.4H3107V517.4ZM3110.5 517.4V516.4H3116.5V515.8H3120.5V517.4ZM3136.5 517.4V515.8H3142.5V516.4H3146.5V517.4ZM3155.5 517.4V516.1H3157.5V515.8H3159.5V517.4ZM3164.5 517.4V516.4H3168.5V517.4ZM3173.5 517.4V515.8H3179.5V516.4H3187.5V516.1H3188.5V517.4ZM3193.5 517.4V516.4H3203.5V517.4ZM3208.5 517.4V516.4H3216.5V515.2H3222.5V516.1H3223.5V517.4ZM3253.5 517.4V516.4H3256.5V515.8H3262.5V516.4H3278.5V515.2H3280.5V516.4H3281.5V517.4ZM3283 517.4V516.4H3298V517.4ZM3307 517.4V516.4H3315V516.1H3320V516.4H3325V515.8H3328V516.1H3334V516.4H3343V517.4ZM3345 517.4V516.4H3348V516.1H3353V516.4H3360V515.2H3363V516.4H3381V517.4ZM3383 517.4V516.4H3395V517.4ZM3400 517.4V515.2H3408V516.4H3410V516.1H3415V517.4ZM3418 517.4V515.8H3424V516.4H3430V517.4ZM3439 517.4V516.4H3443V517.4ZM3455 517.4V516.4H3463V515.2H3466V516.4H3468V515.2H3470V517.4ZM3482 517.4V516.4H3486V517.4ZM3489 517.4V516.4H3491V515.8H3494V517.4ZM3497 517.4V516.4H3500V517.4ZM3503 517.4V515.2H3517V516.4H3523V516.1H3531V517.4ZM3547 517.4V516.4H3555V516.1H3559V516.4H3562V515.8H3566V516.4H3568V515.8H3576V516.4H3583V517.4ZM3586 517.4V516.1H3589V515.2H3593V516.4H3596V516.1H3598V517.4Z"/>
<path fill="#d66e7e" d="M2 562.5V561.5H6V560.9H11V561.5H12V562.5ZM15 562.5V561.5H17V560.9H23V560.3H27V562.5ZM28.5 562.5V561.5H30.5V560.3H32.5V562.5ZM54.5 562.5V561.2H58.5V562.5ZM67.5 562.5V561.5H75.5V560.3H79.5V561.5H85.5V560.3H87.5V561.5H95.5V562.5ZM97 562.5V561.5H106V560.9H111V561.2H114V561.5H117V562.5ZM122 562.5V561.5H125V562.5ZM127 562.5V561.5H135V561.2H139V562.5ZM151 562.5V560.9H155V562.5ZM160 562.5V561.5H164V562.5ZM186 562.5V560.3H191V561.5H198V562.5ZM199.5 562.5V560.9H207.5V561.5H227.5V562.5ZM229.5 562.5V561.5H235.5V562.5ZM265.5 562.5V561.5H268.5V562.5ZM298.5 562.5V560.9H306.5V561.2H312.5V561.5H326.5V562.5ZM338.5 562.5V561.5H341.5V562.5ZM346.5 562.5V561.5H349.5V562.5ZM371.5 562.5V561.5H376.5V562.5ZM383.5 562.5V561.2H387.5V560.3H392.5V560.9H395.5V562.5ZM398.5 562.5V561.5H409.5V561.2H417.5V561.5H418.5V562.5ZM420.5 562.5V561.5H432.5V560.9H437.5V561.5H448.5V562.5ZM455.5 562.5V561.2H461.5V561.5H469.5V560.9H471.5V561.5H475.5V562.5ZM478.5 562.5V561.5H482.5V562.5ZM512.5 562.5V561.5H529.5V561.2H532.5V560.3H535.5V561.5H540.5V562.5ZM545.5 562.5V561.5H555.5V562.5ZM557.5 562.5V561.5H565.5V560.9H568.5V561.5H577.5V562.5ZM579.5 562.5V561.5H597.5V560.3H599.5V561.5H607.5V562.5ZM609 562.5V560.3H617V561.5H629V560.9H633V561.5H637V562.5ZM642 562.5V561.5H652V560.3H657V562.5ZM679 562.5V561.5H691V562.5ZM700 562.5V561.5H714V560.3H715V562.5ZM745 562.5V561.5H755V560.9H760V562.5ZM769 562.5V561.5H777V562.5ZM782 562.5V561.2H784V561.5H787V562.5ZM792 562.5V561.5H796V562.5ZM826 562.5V561.5H828V561.2H834V562.5ZM856 562.5V561.5H871V562.5ZM880 562.5V561.5H895V562.5ZM902 562.5V561.5H908V561.2H912V560.3H914V561.5H924V561.2H930V562.5ZM932 562.5V561.5H936V562.5ZM958 562.5V560.3H963V561.2H967V560.3H970V562.5ZM973 562.5V561.5H983V562.5ZM986 562.5V561.5H1001V562.5ZM1013 562.5V561.5H1016V562.5ZM1018 562.5V561.5H1025V560.3H1029V561.2H1035V561.5H1038V562.5ZM1055 562.5V560.0H1068V560.3H1074V561.5H1075V557.5H1085V562.5ZM1087 562.5V561.5H1097V562.5ZM1127 562.5V561.5H1133V561.2H1139V561.5H1142V562.5ZM1172 562.5V560.3H1176V561.5H1187V562.5ZM1189 562.5V561.5H1193V562.5ZM1200 562.5V561.5H1202V560.9H1206V561.5H1210V560.3H1213V561.5H1215V562.5ZM1217 562.5V561.5H1220V562.5ZM1227 562.5V561.5H1232V561.2H1240V560.3H1245V561.5H1251V561.2H1253V561.5H1258V560.9H1263V562.5ZM1287 562.5V557.5H1292V562.5ZM1293 562.5V561.5H1299V560.3H1307V561.5H1309V561.2H1313V561.5H1321V561.2H1329V562.5ZM1338 562.5V557.5H1342V562.5ZM1345 562.5V561.5H1353V562.5ZM1365 562.5V561.5H1384V560.9H1389V561.5H1393V561.2H1396V561.5H1401V562.5ZM1410 562.5V561.5H1413V562.5ZM1429 562.5V561.5H1439V562.5ZM1442 562.5V561.5H1464V560.3H1469V561.5H1470V562.5ZM1472 562.5V561.5H1483V560.3H1487V562.5ZM1488.5 562.5V561.5H1494.5V562.5ZM1501.5 562.5V561.2H1506.5V562.5ZM1511.5 562.5V561.5H1523.5V562.5ZM1535.5 562.5V561.5H1544.5V560.9H1548.5V560.3H1550.5V562.5ZM1552.5 562.5V560.9H1555.5V561.5H1557.5V562.5ZM1573.5 562.5V561.2H1579.5V561.5H1585.5V562.5ZM1603 562.5V558.5H1608V561.5H1615.5V562.5ZM1618.5 562.5V561.2H1624.5V561.5H1630.5V562.5ZM1652.5 562.5V561.5H1657.5V560.9H1659.5V561.5H1660.5V562.5ZM1672.5 562.5V560.3H1676.5V561.5H1680.5V560.9H1682.5V562.5ZM1694.5 562.5V561.5H1700.5V562.5ZM1703.5 562.5V561.5H1707.5V562.5ZM1710.5 562.5V560.9H1714.5V561.5H1715.5V562.5ZM1720.5 562.5V561.5H1728.5V560.3H1734.5V561.5H1739.5V560.3H1747.5V561.5H1756.5V562.5ZM1761.5 562.5V561.5H1764.5V562.5ZM1780.5 562.5V561.5H1782.5V560.3H1787.5V561.2H1791.5V561.5H1793.5V560.9H1796.5V561.5H1799.5V560.3H1807.5V561.5H1808.5V562.5ZM1811.5 562.5V560.3H1813.5V561.2H1816V559.5H1821V562.5ZM1826.5 562.5V561.5H1829.5V562.5ZM1832.5 562.5V561.2H1840.5V561.5H1844.5V562.5ZM1866.5 562.5V561.2H1870.5V561.5H1876.5V562.5ZM1906.5 562.5V561.5H1908.5V560.9H1911.5V561.5H1923.5V560.3H1928.5V561.5H1932.5V560.3H1934.5V562.5ZM1943.5 562.5V561.5H1948.5V562.5ZM1970.5 562.5V561.5H1996.75V547.5H2002V561.5H2015V562.5ZM2037 562.5V561.5H2040V560.3H2043V561.2H2049V562.5ZM2061 562.5V561.5H2065V561.2H2071V560.3H2073V562.5ZM2085 562.5V560.3H2087V560.9H2089V562.5ZM2105 562.5V560.9H2109V561.5H2115V560.9H2118V561.5H2141V562.5ZM2153 562.5V561.5H2156V562.5ZM2161 562.5V561.5H2165V562.5ZM2170 562.5V561.5H2173V560.3H2180V561.8H2203V560.8H2205.75V558.2H2208.25V551.8H2211.25V543.0H2213.75V547.1H2216.75V554.8H2219.75V559.1H2223.25V557.8H2228V556.5H2229.25V555.0H2231.75V562.5ZM2240.5 562.5V541.9H2247.75V545.4H2249V560.8H2253.25V558.0H2256.75V562.5ZM2258 562.5V550.1H2261.75V556.5H2263V558.0H2268.5V562.5ZM2271.25 562.5V560.8H2274.25V558.0H2277.25V556.5H2279.5V544.1H2281V520.0H2288V532.1H2289.25V534.1H2291.75V562.5ZM2295.25 562.5V558.0H2296.5V551.8H2299V550.9H2301.5V554.8H2303V560.1H2310.25V557.8H2312.25V555.8H2315.75V558.6H2320V562.5ZM2323 562.5V559.9H2327V561.0H2331.25V558.9H2333.75V562.5ZM2370 562.5V561.5H2372V561.2H2374V561.5H2380V560.9H2382V562.5ZM2385 562.5V561.2H2391V561.5H2394V560.3H2402V561.5H2412V560.3H2417V561.2H2421V562.5ZM2428 562.5V560.9H2434V561.5H2438V562.5ZM2468 562.5V561.5H2478V562.5ZM2494 562.5V561.5H2498V562.5ZM2500 562.5V561.5H2504V560.9H2509V561.5H2511V560.3H2515V562.5ZM2531 562.5V560.3H2534V560.9H2537V561.5H2546V562.5ZM2562 562.5V561.5H2570V562.5ZM2572 562.5V561.5H2577V562.5ZM2579 562.5V561.5H2589V562.5ZM2596 562.5V560.9H2599V561.5H2601V561.2H2606V561.5H2611V562.5ZM2614 562.5V561.5H2634V562.5ZM2635.5 562.5V561.5H2641.5V562.5ZM2653 562.5V556.5H2656V545.5H2661.5V562.5ZM2663.5 562.5V561.2H2667.5V560.9H2671.5V561.5H2673.5V562.5ZM2676.5 562.5V561.5H2682.5V561.2H2692.5V561.5H2696.5V562.5ZM2698 562.5V560.9H2703.5V556.5H2708V553.5H2714V560.3H2715V561.5H2718V562.5ZM2725 562.5V561.5H2730V560.9H2732V561.5H2746V560.3H2754V561.5H2756V560.9H2761V562.5ZM2763 562.5V561.2H2771V562.5ZM2793 562.5V560.9H2795V561.5H2803V562.5ZM2806 562.5V561.5H2816V562.5ZM2821 562.5V561.5H2824V561.2H2826V560.9H2829V561.5H2837V560.9H2841V562.5ZM2863 562.5V561.5H2883V562.5ZM2892 562.5V561.2H2897V560.9H2904V561.5H2914V560.9H2918V561.5H2923V561.2H2926V560.9H2928V562.5ZM2933 562.5V561.5H2946V561.2H2954V560.3H2960V561.5H2961V562.5ZM2966 562.5V560.9H2969V561.5H2972V562.5ZM2984 562.5V560.9H2986V561.2H2988V561.5H2990V562.5ZM2995 562.5V561.5H3003V560.3H3005V561.5H3015V562.5ZM3031 562.5V561.5H3041V562.5ZM3042.5 562.5V561.5H3045.5V562.5ZM3052.5 562.5V561.5H3064.5V560.3H3066.5V560.9H3067.5V562.5ZM3074.5 562.5V561.5H3077.5V560.9H3080.5V562.5ZM3110.5 562.5V561.5H3114.5V560.9H3120.5V562.5ZM3136.5 562.5V560.3H3141.5V561.5H3146.5V562.5ZM3155.5 562.5V561.5H3159.5V562.5ZM3164.5 562.5V561.5H3168.5V562.5ZM3173.5 562.5V560.9H3181.5V561.2H3188.5V562.5ZM3193.5 562.5V561.5H3197.5V560.3H3202.5V561.5H3203.5V562.5ZM3208.5 562.5V561.5H3218.5V561.2H3223.5V562.5ZM3253.5 562.5V561.5H3279.5V561.2H3281.5V562.5ZM3283 562.5V561.5H3288V560.3H3291V561.5H3298V562.5ZM3307 562.5V561.5H3311V561.2H3317V560.9H3321V561.5H3343V562.5ZM3345 562.5V561.5H3353V560.9H3358V561.2H3364V561.5H3366V560.9H3374V561.5H3381V562.5ZM3383 562.5V561.5H3391V561.2H3394V560.9H3395V562.5ZM3400 562.5V561.5H3415V562.5ZM3418 562.5V561.5H3430V562.5ZM3439 562.5V561.5H3443V562.5ZM3455 562.5V560.9H3461V561.5H3470V562.5ZM3482 562.5V561.5H3486V562.5ZM3489 562.5V561.5H3494V562.5ZM3497 562.5V561.5H3500V562.5ZM3503 562.5V561.5H3518V560.3H3524V561.5H3528V560.3H3531V562.5ZM3534 562.5V555.5H3540.5V562.5ZM3547 562.5V561.5H3551V560.9H3553V560.3H3557V561.2H3570V561.5H3583V562.5ZM3586 562.5V560.9H3590V561.5H3593V561.2H3598V562.5Z"/>
<g stroke="#000" stroke-width="1.7">
<line x1="0" y1="158.10" x2="3600" y2="158.10"/>
<line x1="0" y1="203.20" x2="3600" y2="203.20"/>
<line x1="0" y1="248.30" x2="3600" y2="248.30"/>
<line x1="0" y1="293.40" x2="3600" y2="293.40"/>
<line x1="0" y1="338.50" x2="3600" y2="338.50"/>
<line x1="0" y1="383.60" x2="3600" y2="383.60"/>
<line x1="0" y1="428.70" x2="3600" y2="428.70"/>
<line x1="0" y1="473.80" x2="3600" y2="473.80"/>
<line x1="0" y1="518.90" x2="3600" y2="518.90"/>
<line x1="0" y1="564.00" x2="3600" y2="564.00"/>
</g>
<g font-size="25.6" fill="#444">
<text x="7.9" y="134.8">-0.5 Mb</text>
<text x="909.8" y="134.8">-0.25 Mb</text>
<text x="1810.0" y="131.8">SNP: p=4.0e-23</text>
<text x="2691.5" y="134.8" text-anchor="end">0.25 Mb</text>
<text x="3593.7" y="134.8" text-anchor="end">0.5 Mb</text>
</g>
<g stroke="#444" stroke-width="1.5"><line x1="810.7" y1="565" x2="810.7" y2="572"/><line x1="2250.9" y1="565" x2="2250.9" y2="572"/></g>
<g font-size="30" fill="#000"><text x="810.7" y="598.5" text-anchor="middle">chr9:135,600,000</text><text x="2250.9" y="598.5" text-anchor="middle">chr9:136,000,000</text></g>
<text x="35.3" y="609.7" font-size="26.5" font-weight="bold" fill="#6a5acd" textLength="267.5" lengthAdjust="spacingAndGlyphs">GWAS lead SNPs</text>
<path d="M300.7 603.8H1782.1L1799.8 577.7M1745.4 603.8L1763 577.7" stroke="#6a5acd" stroke-width="1.9" fill="none"/>
<g fill="#6a5acd"><rect x="1760" y="566" width="6.8" height="9"/><rect x="1758.4" y="576" width="9.3" height="1.8"/><rect x="1796.1" y="566" width="7.9" height="9"/><rect x="1795.2" y="576" width="9.8" height="1.8"/></g>
<g stroke="#1c1c6e" fill="none">
<path d="M337.0 625.5H615.5" stroke-width="1.0" stroke-opacity="0.75"/>
<path d="M363.5 620.8L355.6 625.5L363.5 630.2M382.0 620.8L374.1 625.5L382.0 630.2M400.6 620.8L392.7 625.5L400.6 630.2M419.2 620.8L411.3 625.5L419.2 630.2M437.7 620.8L429.8 625.5L437.7 630.2M456.3 620.8L448.4 625.5L456.3 630.2M474.9 620.8L467.0 625.5L474.9 630.2M493.4 620.8L485.5 625.5L493.4 630.2M512.0 620.8L504.1 625.5L512.0 630.2M530.6 620.8L522.7 625.5L530.6 630.2M549.1 620.8L541.2 625.5L549.1 630.2M567.7 620.8L559.8 625.5L567.7 630.2M586.3 620.8L578.4 625.5L586.3 630.2M604.8 620.8L596.9 625.5L604.8 630.2" stroke-width="1.25"/>
<path d="M615.5 647.4H704.0" stroke-width="1.0" stroke-opacity="0.75"/>
<path d="M625.3 642.7L633.2 647.4L625.3 652.1M643.0 642.7L650.9 647.4L643.0 652.1M660.7 642.7L668.6 647.4L660.7 652.1M678.4 642.7L686.3 647.4L678.4 652.1" stroke-width="1.25"/>
<path d="M300.0 734.4H327.2" stroke-width="1.0" stroke-opacity="0.75"/>
<path d="M305.7 729.7L313.6 734.4L305.7 739.1" stroke-width="1.25"/>
<path d="M814.0 625.5H1365.3" stroke-width="1.0" stroke-opacity="0.75"/>
<path d="M839.7 620.8L831.8 625.5L839.7 630.2M857.5 620.8L849.6 625.5L857.5 630.2M875.3 620.8L867.4 625.5L875.3 630.2M893.0 620.8L885.1 625.5L893.0 630.2M910.8 620.8L902.9 625.5L910.8 630.2M928.6 620.8L920.7 625.5L928.6 630.2M946.4 620.8L938.5 625.5L946.4 630.2M964.2 620.8L956.3 625.5L964.2 630.2M982.0 620.8L974.1 625.5L982.0 630.2M999.7 620.8L991.8 625.5L999.7 630.2M1017.5 620.8L1009.6 625.5L1017.5 630.2M1035.3 620.8L1027.4 625.5L1035.3 630.2M1053.1 620.8L1045.2 625.5L1053.1 630.2M1070.9 620.8L1063.0 625.5L1070.9 630.2M1088.7 620.8L1080.8 625.5L1088.7 630.2M1106.4 620.8L1098.5 625.5L1106.4 630.2M1124.2 620.8L1116.3 625.5L1124.2 630.2M1142.0 620.8L1134.1 625.5L1142.0 630.2M1159.8 620.8L1151.9 625.5L1159.8 630.2M1177.6 620.8L1169.7 625.5L1177.6 630.2M1195.4 620.8L1187.5 625.5L1195.4 630.2M1213.1 620.8L1205.2 625.5L1213.1 630.2M1230.9 620.8L1223.0 625.5L1230.9 630.2M1248.7 620.8L1240.8 625.5L1248.7 630.2M1266.5 620.8L1258.6 625.5L1266.5 630.2M1284.3 620.8L1276.4 625.5L1284.3 630.2M1302.1 620.8L1294.2 625.5L1302.1 630.2M1319.8 620.8L1311.9 625.5L1319.8 630.2M1337.6 620.8L1329.7 625.5L1337.6 630.2M1355.4 620.8L1347.5 625.5L1355.4 630.2" stroke-width="1.25"/>
<path d="M1363.3 647.4H1399.0" stroke-width="1.0" stroke-opacity="0.75"/>
<path d="M1373.2 642.7L1381.2 647.4L1373.2 652.1" stroke-width="1.25"/>
<path d="M1399.0 647.4H1611.0" stroke-width="1.0" stroke-opacity="0.75"/>
<path d="M1424.6 642.7L1416.7 647.4L1424.6 652.1M1442.2 642.7L1434.3 647.4L1442.2 652.1M1459.9 642.7L1452.0 647.4L1459.9 652.1M1477.6 642.7L1469.7 647.4L1477.6 652.1M1495.2 642.7L1487.3 647.4L1495.2 652.1M1512.9 642.7L1505.0 647.4L1512.9 652.1M1530.6 642.7L1522.7 647.4L1530.6 652.1M1548.2 642.7L1540.3 647.4L1548.2 652.1M1565.9 642.7L1558.0 647.4L1565.9 652.1M1583.6 642.7L1575.7 647.4L1583.6 652.1M1601.2 642.7L1593.3 647.4L1601.2 652.1" stroke-width="1.25"/>
<path d="M1601.0 669.2H1772.6" stroke-width="1.0" stroke-opacity="0.75"/>
<path d="M1610.3 664.5L1618.2 669.2L1610.3 673.9M1627.4 664.5L1635.3 669.2L1627.4 673.9M1644.6 664.5L1652.5 669.2L1644.6 673.9M1661.7 664.5L1669.6 669.2L1661.7 673.9M1678.9 664.5L1686.8 669.2L1678.9 673.9M1696.1 664.5L1704.0 669.2L1696.1 673.9M1713.2 664.5L1721.1 669.2L1713.2 673.9M1730.4 664.5L1738.3 669.2L1730.4 673.9M1747.5 664.5L1755.4 669.2L1747.5 673.9" stroke-width="1.25"/>
<path d="M1912.7 625.5H2013.0" stroke-width="1.0" stroke-opacity="0.75"/>
<path d="M1921.5 620.8L1929.4 625.5L1921.5 630.2M1938.2 620.8L1946.1 625.5L1938.2 630.2M1954.9 620.8L1962.8 625.5L1954.9 630.2M1971.7 620.8L1979.6 625.5L1971.7 630.2M1988.4 620.8L1996.3 625.5L1988.4 630.2" stroke-width="1.25"/>
<path d="M2024.5 669.2H2061.6" stroke-width="1.0" stroke-opacity="0.75"/>
<path d="M2035.1 664.5L2043.0 669.2L2035.1 673.9" stroke-width="1.25"/>
<path d="M2153.6 625.5H2339.3" stroke-width="1.0" stroke-opacity="0.75"/>
<path d="M2180.1 620.8L2172.2 625.5L2180.1 630.2M2198.6 620.8L2190.7 625.5L2198.6 630.2M2217.2 620.8L2209.3 625.5L2217.2 630.2M2235.8 620.8L2227.9 625.5L2235.8 630.2M2254.3 620.8L2246.4 625.5L2254.3 630.2M2272.9 620.8L2265.0 625.5L2272.9 630.2M2291.5 620.8L2283.6 625.5L2291.5 630.2M2310.1 620.8L2302.2 625.5L2310.1 630.2M2328.6 620.8L2320.7 625.5L2328.6 630.2" stroke-width="1.25"/>
<path d="M2352.7 647.4H2392.4" stroke-width="1.0" stroke-opacity="0.75"/>
<path d="M2380.5 642.7L2372.6 647.4L2380.5 652.1" stroke-width="1.25"/>
<path d="M2352.7 669.2H2392.4" stroke-width="1.0" stroke-opacity="0.75"/>
<path d="M2380.5 664.5L2372.6 669.2L2380.5 673.9" stroke-width="1.25"/>
<path d="M2541.3 625.5H2555.4" stroke-width="1.0" stroke-opacity="0.75"/>
<path d="" stroke-width="1.25"/>
<path d="M2721.0 625.5H2796.0" stroke-width="1.0" stroke-opacity="0.75"/>
<path d="M2747.7 620.8L2739.8 625.5L2747.7 630.2M2766.4 620.8L2758.5 625.5L2766.4 630.2M2785.2 620.8L2777.2 625.5L2785.2 630.2" stroke-width="1.25"/>
<path d="M2954.8 625.5H2982.0" stroke-width="1.0" stroke-opacity="0.75"/>
<path d="M2976.3 620.8L2968.4 625.5L2976.3 630.2" stroke-width="1.25"/>
<path d="M3024.6 647.4H3040.0" stroke-width="1.0" stroke-opacity="0.75"/>
<path d="" stroke-width="1.25"/>
<path d="M3040.0 647.4H3055.7" stroke-width="1.0" stroke-opacity="0.75"/>
<path d="" stroke-width="1.25"/>
<path d="M3054.6 669.2H3082.0" stroke-width="1.0" stroke-opacity="0.75"/>
<path d="M3060.4 664.5L3068.3 669.2L3060.4 673.9" stroke-width="1.25"/>
<path d="M3082.0 669.2H3125.8" stroke-width="1.0" stroke-opacity="0.75"/>
<path d="M3111.8 664.5L3103.9 669.2L3111.8 673.9" stroke-width="1.25"/>
<path d="M3125.8 690.9H3227.3" stroke-width="1.0" stroke-opacity="0.75"/>
<path d="M3134.8 686.2L3142.7 690.9L3134.8 695.6M3151.7 686.2L3159.6 690.9L3151.7 695.6M3168.7 686.2L3176.6 690.9L3168.7 695.6M3185.6 686.2L3193.5 690.9L3185.6 695.6M3202.5 686.2L3210.4 690.9L3202.5 695.6" stroke-width="1.25"/>
<path d="M2989.2 712.8H3024.6" stroke-width="1.0" stroke-opacity="0.75"/>
<path d="M3014.8 708.1L3006.9 712.8L3014.8 717.5" stroke-width="1.25"/>
<path d="M3256.7 734.4H3419.5" stroke-width="1.0" stroke-opacity="0.75"/>
<path d="M3266.9 729.7L3274.8 734.4L3266.9 739.1M3285.0 729.7L3292.9 734.4L3285.0 739.1M3303.1 729.7L3311.0 734.4L3303.1 739.1M3321.2 729.7L3329.1 734.4L3321.2 739.1M3339.2 729.7L3347.1 734.4L3339.2 739.1M3357.3 729.7L3365.2 734.4L3357.3 739.1M3375.4 729.7L3383.3 734.4L3375.4 739.1M3393.5 729.7L3401.4 734.4L3393.5 739.1" stroke-width="1.25"/>
<path d="M3460.9 734.4H3490.2" stroke-width="1.0" stroke-opacity="0.75"/>
<path d="M3483.5 729.7L3475.6 734.4L3483.5 739.1" stroke-width="1.25"/>
<path d="M3227.0 625.5H3269.8" stroke-width="1.0" stroke-opacity="0.75"/>
<path d="M3256.3 620.8L3248.4 625.5L3256.3 630.2" stroke-width="1.25"/>
<path d="M3420.2 647.4H3460.2" stroke-width="1.0" stroke-opacity="0.75"/>
<path d="M3432.3 642.7L3440.2 647.4L3432.3 652.1" stroke-width="1.25"/>
</g>
<g fill="#1c1c6e">
<rect x="337.0" y="621.3" width="8.0" height="8.4"/>
<rect x="428.7" y="621.3" width="1.3" height="8.4"/>
<rect x="470.5" y="621.3" width="1.3" height="8.4"/>
<rect x="509.0" y="621.3" width="1.3" height="8.4"/>
<rect x="527.0" y="621.3" width="1.3" height="8.4"/>
<rect x="573.8" y="621.3" width="1.3" height="8.4"/>
<rect x="583.7" y="621.3" width="1.3" height="8.4"/>
<rect x="614.5" y="621.3" width="1.3" height="8.4"/>
<rect x="615.5" y="643.2" width="1.3" height="8.4"/>
<rect x="643.8" y="643.2" width="5.3" height="8.4"/>
<rect x="676.3" y="643.2" width="1.3" height="8.4"/>
<rect x="682.7" y="643.2" width="21.3" height="8.4"/>
<rect x="300.0" y="730.2" width="1.3" height="8.4"/>
<rect x="324.7" y="730.2" width="2.5" height="8.4"/>
<rect x="814.0" y="621.3" width="1.3" height="8.4"/>
<rect x="1176.7" y="621.3" width="1.3" height="8.4"/>
<rect x="1185.6" y="621.3" width="1.3" height="8.4"/>
<rect x="1312.2" y="621.3" width="1.3" height="8.4"/>
<rect x="1364.3" y="621.3" width="1.3" height="8.4"/>
<rect x="1363.3" y="643.2" width="1.3" height="8.4"/>
<rect x="1379.0" y="643.2" width="1.3" height="8.4"/>
<rect x="1397.0" y="643.2" width="1.3" height="8.4"/>
<rect x="1400.0" y="643.2" width="5.6" height="8.4"/>
<rect x="1411.3" y="643.2" width="19.7" height="8.4"/>
<rect x="1432.0" y="643.2" width="1.3" height="8.4"/>
<rect x="1462.8" y="643.2" width="1.3" height="8.4"/>
<rect x="1480.0" y="643.2" width="1.3" height="8.4"/>
<rect x="1534.4" y="643.2" width="1.3" height="8.4"/>
<rect x="1541.5" y="643.2" width="1.3" height="8.4"/>
<rect x="1568.3" y="643.2" width="1.3" height="8.4"/>
<rect x="1606.0" y="665.0" width="1.3" height="8.4"/>
<rect x="1712.0" y="665.0" width="1.3" height="8.4"/>
<rect x="1725.8" y="665.0" width="1.3" height="8.4"/>
<rect x="1754.5" y="665.0" width="1.3" height="8.4"/>
<rect x="1757.5" y="665.0" width="1.3" height="8.4"/>
<rect x="1761.5" y="665.0" width="1.3" height="8.4"/>
<rect x="1768.0" y="665.0" width="4.6" height="8.4"/>
<rect x="1912.7" y="621.3" width="1.3" height="8.4"/>
<rect x="1985.6" y="621.3" width="1.3" height="8.4"/>
<rect x="1999.0" y="621.3" width="1.3" height="8.4"/>
<rect x="2010.0" y="621.3" width="3.0" height="8.4"/>
<rect x="2024.5" y="665.0" width="1.3" height="8.4"/>
<rect x="2034.0" y="665.0" width="1.3" height="8.4"/>
<rect x="2058.0" y="665.0" width="3.6" height="8.4"/>
<rect x="2153.6" y="621.3" width="4.4" height="8.4"/>
<rect x="2160.0" y="621.3" width="1.3" height="8.4"/>
<rect x="2166.0" y="621.3" width="1.3" height="8.4"/>
<rect x="2170.0" y="621.3" width="1.3" height="8.4"/>
<rect x="2187.0" y="621.3" width="1.3" height="8.4"/>
<rect x="2190.0" y="621.3" width="1.3" height="8.4"/>
<rect x="2195.0" y="621.3" width="1.3" height="8.4"/>
<rect x="2338.3" y="621.3" width="1.3" height="8.4"/>
<rect x="2352.7" y="643.2" width="3.3" height="8.4"/>
<rect x="2356.5" y="643.2" width="1.3" height="8.4"/>
<rect x="2352.7" y="665.0" width="7.3" height="8.4"/>
<rect x="2541.3" y="621.3" width="2.2" height="8.4"/>
<rect x="2546.0" y="621.3" width="1.3" height="8.4"/>
<rect x="2554.4" y="621.3" width="1.3" height="8.4"/>
<rect x="2721.0" y="621.3" width="3.0" height="8.4"/>
<rect x="2727.0" y="621.3" width="1.3" height="8.4"/>
<rect x="2954.8" y="621.3" width="10.2" height="8.4"/>
<rect x="2975.0" y="621.3" width="1.3" height="8.4"/>
<rect x="2981.0" y="621.3" width="1.3" height="8.4"/>
<rect x="3024.6" y="643.2" width="1.3" height="8.4"/>
<rect x="3031.0" y="643.2" width="1.3" height="8.4"/>
<rect x="3034.0" y="643.2" width="2.0" height="8.4"/>
<rect x="3038.0" y="643.2" width="1.3" height="8.4"/>
<rect x="3041.0" y="643.2" width="1.3" height="8.4"/>
<rect x="3044.0" y="643.2" width="1.3" height="8.4"/>
<rect x="3054.7" y="643.2" width="1.3" height="8.4"/>
<rect x="3054.6" y="665.0" width="1.3" height="8.4"/>
<rect x="3060.0" y="665.0" width="1.3" height="8.4"/>
<rect x="3073.0" y="665.0" width="7.0" height="8.4"/>
<rect x="3085.0" y="665.0" width="1.3" height="8.4"/>
<rect x="3091.0" y="665.0" width="1.3" height="8.4"/>
<rect x="3094.0" y="665.0" width="1.3" height="8.4"/>
<rect x="3124.8" y="665.0" width="1.3" height="8.4"/>
<rect x="3171.0" y="686.7" width="1.3" height="8.4"/>
<rect x="3188.0" y="686.7" width="1.3" height="8.4"/>
<rect x="3205.0" y="686.7" width="1.3" height="8.4"/>
<rect x="3222.0" y="686.7" width="1.3" height="8.4"/>
<rect x="3224.0" y="686.7" width="3.3" height="8.4"/>
<rect x="2989.2" y="708.6" width="12.8" height="8.4"/>
<rect x="3012.0" y="708.6" width="1.3" height="8.4"/>
<rect x="3020.0" y="708.6" width="1.3" height="8.4"/>
<rect x="3023.6" y="708.6" width="1.3" height="8.4"/>
<rect x="3287.0" y="730.2" width="1.3" height="8.4"/>
<rect x="3294.0" y="730.2" width="1.3" height="8.4"/>
<rect x="3300.0" y="730.2" width="1.3" height="8.4"/>
<rect x="3312.0" y="730.2" width="1.3" height="8.4"/>
<rect x="3326.0" y="730.2" width="1.3" height="8.4"/>
<rect x="3343.0" y="730.2" width="1.3" height="8.4"/>
<rect x="3367.0" y="730.2" width="1.3" height="8.4"/>
<rect x="3377.0" y="730.2" width="1.3" height="8.4"/>
<rect x="3404.0" y="730.2" width="1.3" height="8.4"/>
<rect x="3407.0" y="730.2" width="1.3" height="8.4"/>
<rect x="3410.0" y="730.2" width="1.3" height="8.4"/>
<rect x="3413.0" y="730.2" width="1.3" height="8.4"/>
<rect x="3418.5" y="730.2" width="1.3" height="8.4"/>
<rect x="3460.9" y="730.2" width="3.1" height="8.4"/>
<rect x="3472.0" y="730.2" width="1.3" height="8.4"/>
<rect x="3476.0" y="730.2" width="1.3" height="8.4"/>
<rect x="3489.2" y="730.2" width="1.3" height="8.4"/>
<rect x="3227.0" y="621.3" width="4.0" height="8.4"/>
<rect x="3233.0" y="621.3" width="1.3" height="8.4"/>
<rect x="3251.0" y="621.3" width="1.3" height="8.4"/>
<rect x="3268.8" y="621.3" width="1.3" height="8.4"/>
<rect x="3420.2" y="643.2" width="1.3" height="8.4"/>
<rect x="3453.0" y="643.2" width="7.2" height="8.4"/>
</g>
<g font-size="22.7">
<text x="617.0" y="633.6" text-anchor="start" fill="#000">DDX31</text>
<text x="613.2" y="655.5" text-anchor="end" fill="#000">GTF3C4</text>
<text x="297.7" y="742.5" text-anchor="end" fill="#000">BARHL1</text>
<text x="1366.8" y="633.6" text-anchor="start" fill="#000">AK8</text>
<text x="1361.0" y="655.5" text-anchor="end" fill="#000">SPACA9</text>
<rect x="1613.2" y="636.8" width="60.5" height="21.2" fill="#55a352"/>
<text x="1612.5" y="655.5" text-anchor="start" fill="#fff">TSC1</text>
<rect x="1529.4" y="658" width="69.6" height="21.6" fill="#55a352"/>
<text x="1598.7" y="677.3" text-anchor="end" fill="#fff">GFI1B</text>
<text x="1910.4" y="633.6" text-anchor="end" fill="#000">GTF3C5</text>
<rect x="1977.8" y="658.3" width="46.0" height="21.3" fill="#55a352"/>
<text x="2022.2" y="677.3" text-anchor="end" fill="#fff">CEL</text>
<text x="2340.8" y="633.6" text-anchor="start" fill="#000">RALGDS</text>
<rect x="2394" y="637" width="79.7" height="20.6" fill="#000000"/>
<text x="2393.9" y="655.5" text-anchor="start" fill="#fff">GBGT1</text>
<rect x="2394" y="658.3" width="79.7" height="21.3" fill="#000000"/>
<text x="2393.9" y="677.3" text-anchor="start" fill="#fff">GBGT1</text>
<text x="2556.9" y="633.6" text-anchor="start" fill="#000">OBP2B</text>
<text x="2797.5" y="633.6" text-anchor="start" fill="#000">ABO</text>
<text x="2983.5" y="633.6" text-anchor="start" fill="#000">SURF6</text>
<text x="3022.3" y="655.5" text-anchor="end" fill="#000">RPL7A</text>
<text x="3057.2" y="655.5" text-anchor="start" fill="#000">SURF1</text>
<text x="3052.3" y="677.3" text-anchor="end" fill="#000">SURF2</text>
<text x="3127.3" y="677.3" text-anchor="start" fill="#000">SURF4</text>
<text x="3123.5" y="699.0" text-anchor="end" fill="#000">STKLD1</text>
<text x="3026.1" y="720.9" text-anchor="start" fill="#000">MED22</text>
<text x="3254.4" y="742.5" text-anchor="end" fill="#000">ADAMTS13</text>
<rect x="3492" y="722.8" width="88.5" height="21.9" fill="#55a352"/>
<text x="3491.7" y="742.5" text-anchor="start" fill="#fff">SLC2A6</text>
<text x="3271.3" y="633.6" text-anchor="start" fill="#000">REXO4</text>
<text x="3417.9" y="655.5" text-anchor="end" fill="#000">CACFD1</text>
</g>
</svg></body></html>
